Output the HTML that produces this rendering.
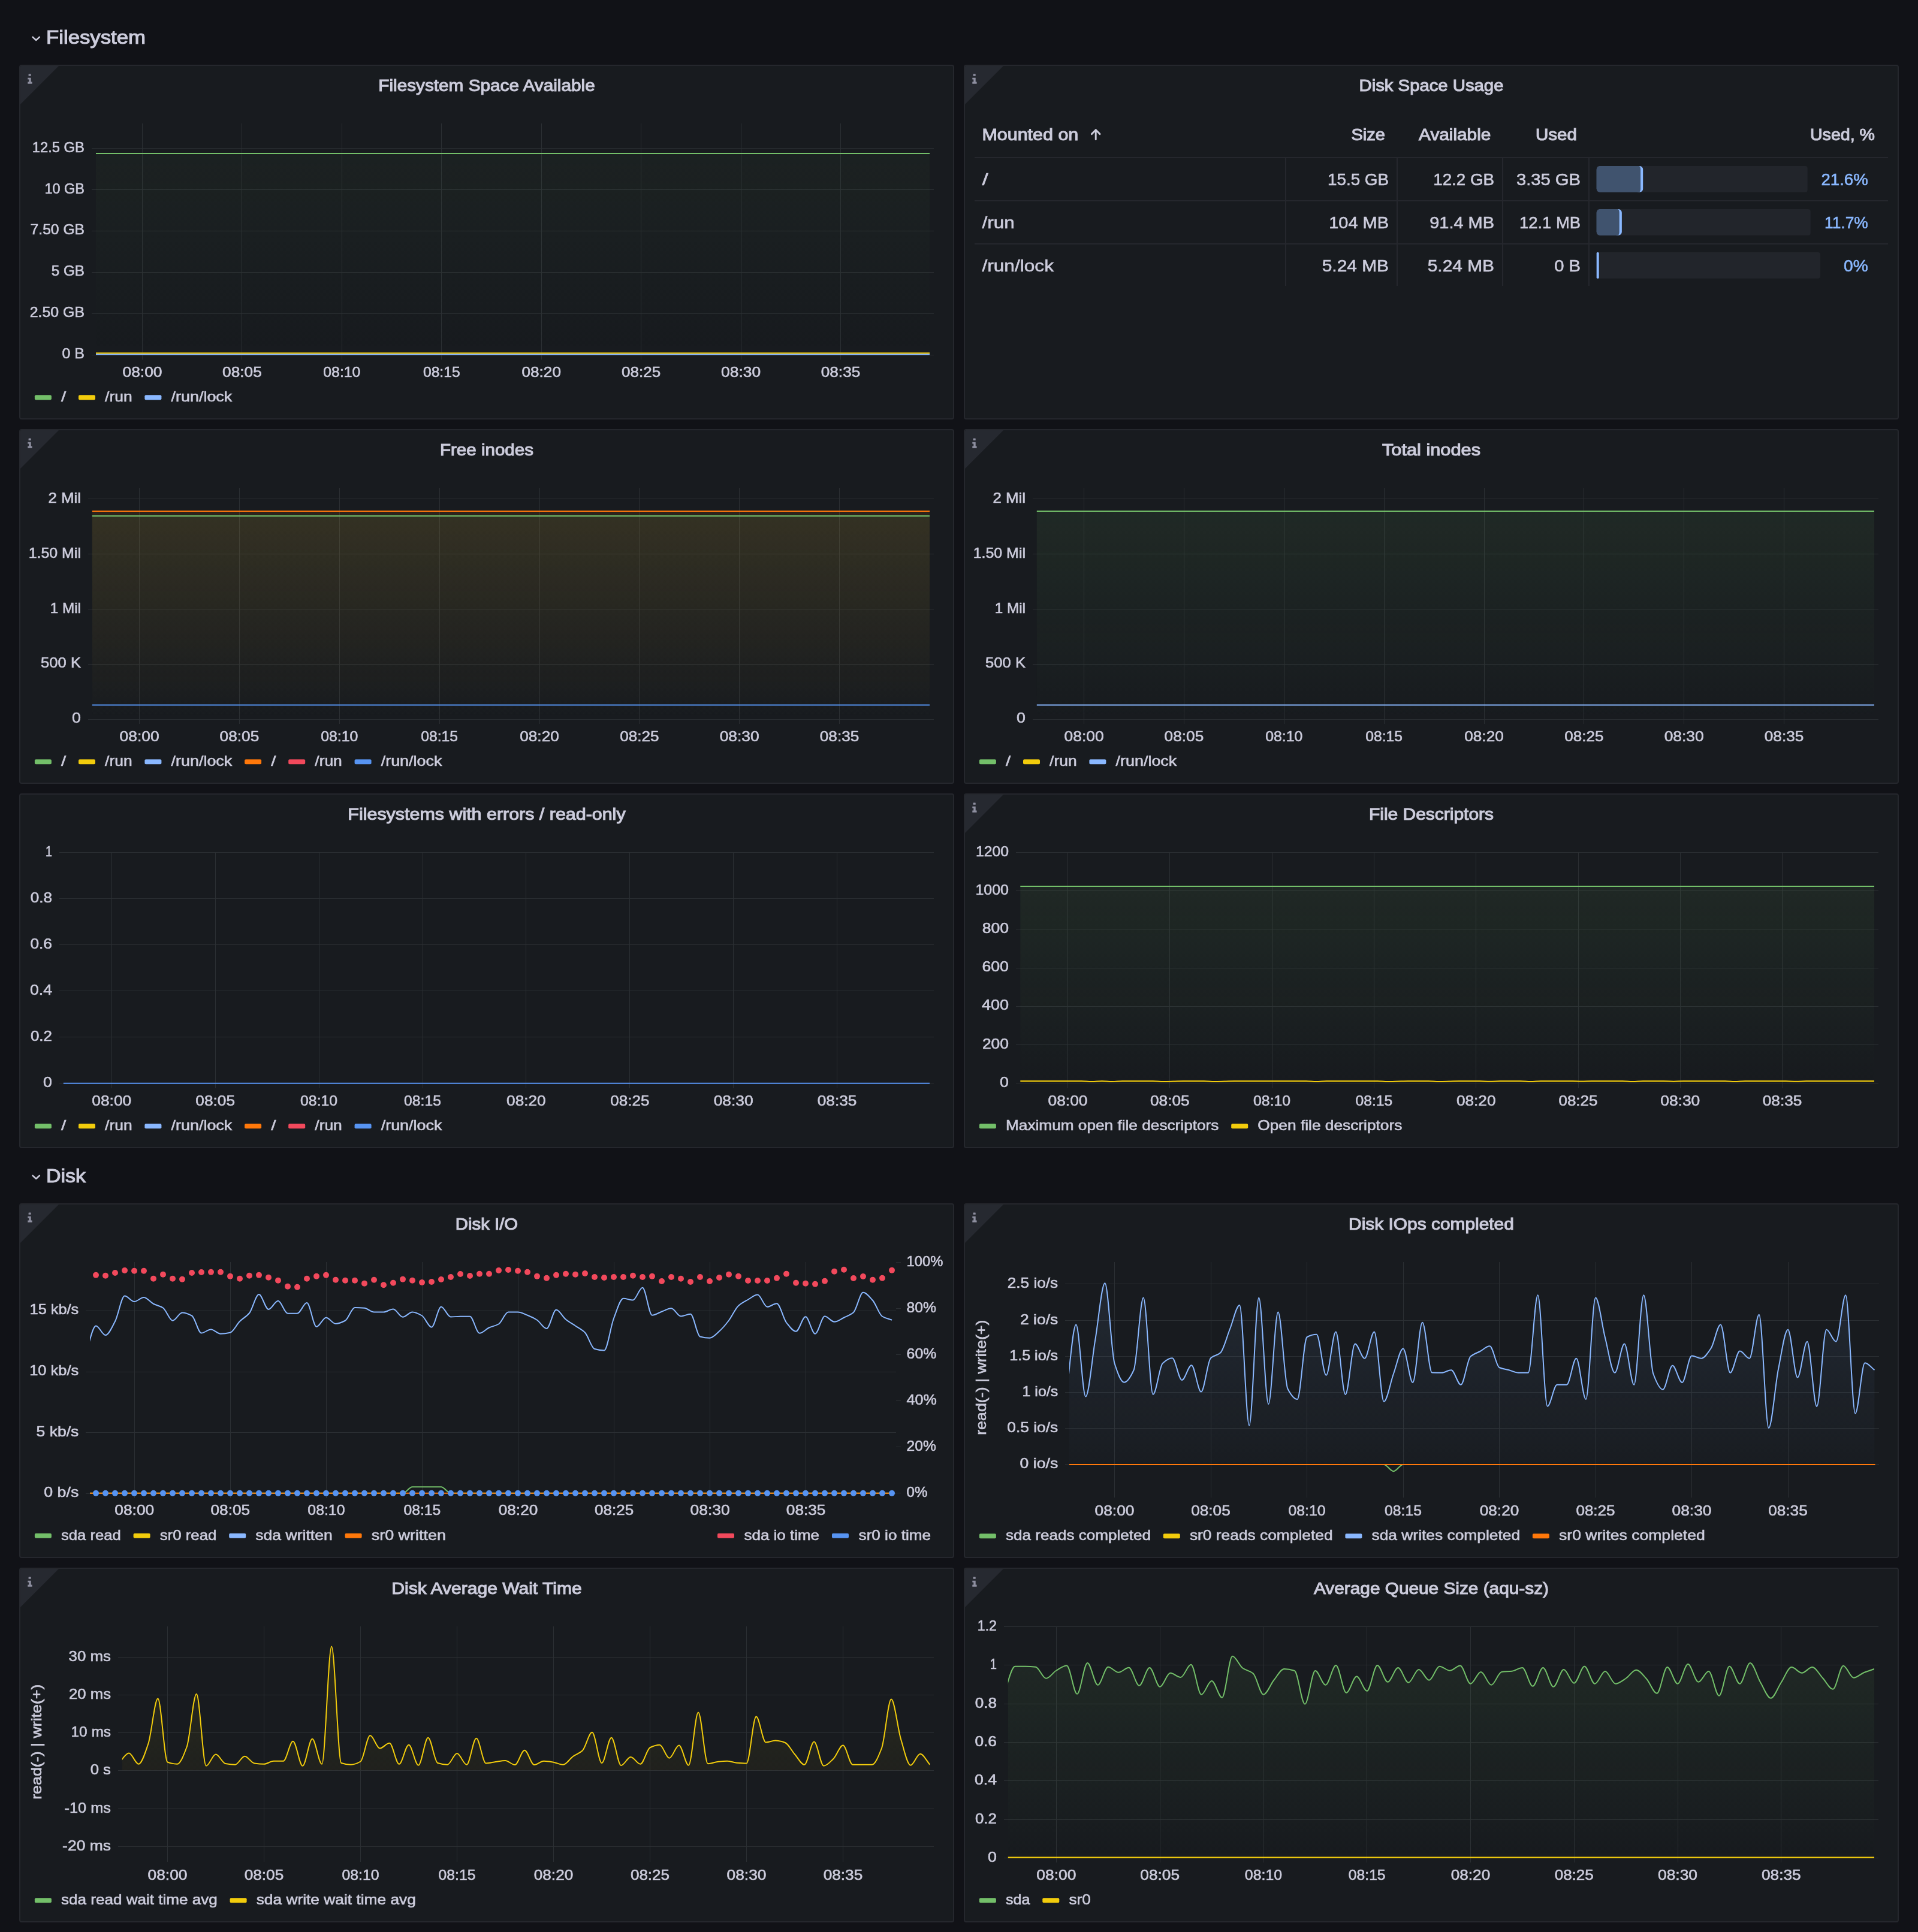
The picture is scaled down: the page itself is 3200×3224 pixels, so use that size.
<!DOCTYPE html><html lang="en"><head><meta charset="utf-8"><title>Node Exporter Full</title><style>
html,body{margin:0;padding:0;background:#111217;}
body{width:3200px;height:3224px;position:relative;overflow:hidden;font-family:"Liberation Sans",sans-serif;color:#ccccdc;}
.panel{position:absolute;box-sizing:border-box;background:#181b1f;border:2px solid #25272d;border-radius:4px;overflow:hidden;}
.panel svg{position:absolute;left:-2px;top:-2px;display:block;will-change:transform;}
.row{position:absolute;left:32px;height:60px;width:600px;}
.row svg{display:block;will-change:transform;}
svg text{font-family:"Liberation Sans",sans-serif;}
</style></head><body>
<div class="row" style="top:32px"><svg width="600" height="60" viewBox="0 0 600 60"><path d="M22.6,29.9l5.6,5.1l5.6,-5.1" fill="none" stroke="#ccccdc" stroke-width="2.6" stroke-linecap="round" stroke-linejoin="round"/><text x="45" y="41.4" font-size="32" fill="#ccccdc" textLength="166" lengthAdjust="spacingAndGlyphs" stroke="#ccccdc" stroke-width="1.1">Filesystem</text></svg></div>
<div class="row" style="top:1932px"><svg width="600" height="60" viewBox="0 0 600 60"><path d="M22.6,29.9l5.6,5.1l5.6,-5.1" fill="none" stroke="#ccccdc" stroke-width="2.6" stroke-linecap="round" stroke-linejoin="round"/><text x="45" y="41.4" font-size="32" fill="#ccccdc" textLength="66" lengthAdjust="spacingAndGlyphs" stroke="#ccccdc" stroke-width="1.1">Disk</text></svg></div>
<section class="panel" style="left:32px;top:108px;width:1560px;height:592px"><svg width="1560" height="592" viewBox="0 0 1560 592"><path d="M2,2H66L2,66Z" fill="#262930"/><g fill="#8e8fa0"><rect x="15.6" y="15.5" width="4.1" height="3.3" rx="0.4"/><path d="M14.3,21.7h5.4v6.9h1.9v3.1h-7.3v-3.1h2v-4.1h-2z"/></g><text x="599.29" y="43.8" font-size="28" fill="#ccccdc" textLength="361.42" lengthAdjust="spacingAndGlyphs" stroke="#ccccdc" stroke-width="1.1">Filesystem Space Available</text><g stroke="#2b2f33" stroke-width="1" shape-rendering="crispEdges"><line x1="205.5" y1="98.4" x2="205.5" y2="491.8"/><line x1="371.93" y1="98.4" x2="371.93" y2="491.8"/><line x1="538.36" y1="98.4" x2="538.36" y2="491.8"/><line x1="704.79" y1="98.4" x2="704.79" y2="491.8"/><line x1="871.22" y1="98.4" x2="871.22" y2="491.8"/><line x1="1037.65" y1="98.4" x2="1037.65" y2="491.8"/><line x1="1204.08" y1="98.4" x2="1204.08" y2="491.8"/><line x1="1370.51" y1="98.4" x2="1370.51" y2="491.8"/><line x1="121" y1="139.5" x2="1526" y2="139.5"/><line x1="121" y1="208.4" x2="1526" y2="208.4"/><line x1="121" y1="277.3" x2="1526" y2="277.3"/><line x1="121" y1="346.2" x2="1526" y2="346.2"/><line x1="121" y1="415.1" x2="1526" y2="415.1"/><line x1="121" y1="484" x2="1526" y2="484"/></g><text x="21.67" y="145.6" font-size="24" fill="#ccccdc" textLength="87.33" lengthAdjust="spacingAndGlyphs" stroke="#ccccdc" stroke-width="0.6">12.5 GB</text><text x="42.5" y="214.5" font-size="24" fill="#ccccdc" textLength="66.5" lengthAdjust="spacingAndGlyphs" stroke="#ccccdc" stroke-width="0.6">10 GB</text><text x="18.62" y="283.4" font-size="24" fill="#ccccdc" textLength="90.38" lengthAdjust="spacingAndGlyphs" stroke="#ccccdc" stroke-width="0.6">7.50 GB</text><text x="53.82" y="352.3" font-size="24" fill="#ccccdc" textLength="55.18" lengthAdjust="spacingAndGlyphs" stroke="#ccccdc" stroke-width="0.6">5 GB</text><text x="17.77" y="421.2" font-size="24" fill="#ccccdc" textLength="91.23" lengthAdjust="spacingAndGlyphs" stroke="#ccccdc" stroke-width="0.6">2.50 GB</text><text x="71.49" y="490.1" font-size="24" fill="#ccccdc" textLength="37.51" lengthAdjust="spacingAndGlyphs" stroke="#ccccdc" stroke-width="0.6">0 B</text><text x="172.49" y="521.2" font-size="24" fill="#ccccdc" textLength="66.02" lengthAdjust="spacingAndGlyphs" stroke="#ccccdc" stroke-width="0.6">08:00</text><text x="339.1" y="521.2" font-size="24" fill="#ccccdc" textLength="65.65" lengthAdjust="spacingAndGlyphs" stroke="#ccccdc" stroke-width="0.6">08:05</text><text x="507.3" y="521.2" font-size="24" fill="#ccccdc" textLength="62.12" lengthAdjust="spacingAndGlyphs" stroke="#ccccdc" stroke-width="0.6">08:10</text><text x="673.91" y="521.2" font-size="24" fill="#ccccdc" textLength="61.75" lengthAdjust="spacingAndGlyphs" stroke="#ccccdc" stroke-width="0.6">08:15</text><text x="838.46" y="521.2" font-size="24" fill="#ccccdc" textLength="65.53" lengthAdjust="spacingAndGlyphs" stroke="#ccccdc" stroke-width="0.6">08:20</text><text x="1005.07" y="521.2" font-size="24" fill="#ccccdc" textLength="65.16" lengthAdjust="spacingAndGlyphs" stroke="#ccccdc" stroke-width="0.6">08:25</text><text x="1171.07" y="521.2" font-size="24" fill="#ccccdc" textLength="66.02" lengthAdjust="spacingAndGlyphs" stroke="#ccccdc" stroke-width="0.6">08:30</text><text x="1337.68" y="521.2" font-size="24" fill="#ccccdc" textLength="65.65" lengthAdjust="spacingAndGlyphs" stroke="#ccccdc" stroke-width="0.6">08:35</text><defs><linearGradient id="lg1" gradientUnits="userSpaceOnUse" x1="0" y1="98.4" x2="0" y2="483.8"><stop offset="0" stop-color="#73bf69" stop-opacity="0.05"/><stop offset="1" stop-color="#73bf69" stop-opacity="0"/></linearGradient></defs><rect x="128" y="148" width="1391" height="336" fill="url(#lg1)"/><line x1="128" y1="148" x2="1519" y2="148" stroke="#73bf69" stroke-width="2"/><line x1="128" y1="483.2" x2="1519" y2="483.2" stroke="#8ab8ff" stroke-width="2"/><line x1="128" y1="481.2" x2="1519" y2="481.2" stroke="#f2cc0c" stroke-width="2"/><rect x="25.9" y="551.3" width="28" height="8" rx="2" fill="#73bf69"/><text x="70" y="562.3" font-size="24" fill="#ccccdc" textLength="8.2" lengthAdjust="spacingAndGlyphs" stroke="#ccccdc" stroke-width="0.6">/</text><rect x="99" y="551.3" width="28" height="8" rx="2" fill="#f2cc0c"/><text x="143.1" y="562.3" font-size="24" fill="#ccccdc" textLength="45.5" lengthAdjust="spacingAndGlyphs" stroke="#ccccdc" stroke-width="0.6">/run</text><rect x="209.4" y="551.3" width="28" height="8" rx="2" fill="#8ab8ff"/><text x="253.5" y="562.3" font-size="24" fill="#ccccdc" textLength="101.8" lengthAdjust="spacingAndGlyphs" stroke="#ccccdc" stroke-width="0.6">/run/lock</text></svg></section>
<section class="panel" style="left:1608px;top:108px;width:1560px;height:592px"><svg width="1560" height="592" viewBox="0 0 1560 592"><path d="M2,2H66L2,66Z" fill="#262930"/><g fill="#8e8fa0"><rect x="15.6" y="15.5" width="4.1" height="3.3" rx="0.4"/><path d="M14.3,21.7h5.4v6.9h1.9v3.1h-7.3v-3.1h2v-4.1h-2z"/></g><text x="659.53" y="43.8" font-size="28" fill="#ccccdc" textLength="240.95" lengthAdjust="spacingAndGlyphs" stroke="#ccccdc" stroke-width="1.1">Disk Space Usage</text><text x="30.4" y="125.8" font-size="28" fill="#ccccdc" textLength="160.91" lengthAdjust="spacingAndGlyphs" stroke="#ccccdc" stroke-width="1.1">Mounted on</text><path d="M220.2,124.8 v-16 m-6.8,6.8 l6.8,-6.8 l6.8,6.8" fill="none" stroke="#ccccdc" stroke-width="2.9" stroke-linecap="round" stroke-linejoin="round"/><text x="646.44" y="125.8" font-size="28" fill="#ccccdc" textLength="56.56" lengthAdjust="spacingAndGlyphs" stroke="#ccccdc" stroke-width="1.1">Size</text><text x="759.11" y="125.8" font-size="28" fill="#ccccdc" textLength="120.19" lengthAdjust="spacingAndGlyphs" stroke="#ccccdc" stroke-width="1.1">Available</text><text x="954" y="125.8" font-size="28" fill="#ccccdc" textLength="69" lengthAdjust="spacingAndGlyphs" stroke="#ccccdc" stroke-width="1.1">Used</text><text x="1411.97" y="125.8" font-size="28" fill="#ccccdc" textLength="108.03" lengthAdjust="spacingAndGlyphs" stroke="#ccccdc" stroke-width="1.1">Used, %</text><g stroke="#25272d" stroke-width="2" shape-rendering="crispEdges"><line x1="18" y1="154.7" x2="1542" y2="154.7"/><line x1="18" y1="226.9" x2="1542" y2="226.9"/><line x1="18" y1="298.6" x2="1542" y2="298.6"/><line x1="536.8" y1="155" x2="536.8" y2="369"/><line x1="722.8" y1="155" x2="722.8" y2="369"/><line x1="899" y1="155" x2="899" y2="369"/><line x1="1043" y1="155" x2="1043" y2="369"/></g><text x="30.4" y="201.2" font-size="28" fill="#ccccdc" textLength="10.23" lengthAdjust="spacingAndGlyphs" stroke="#ccccdc" stroke-width="0.6">/</text><text x="606.97" y="201.2" font-size="28" fill="#ccccdc" textLength="102.03" lengthAdjust="spacingAndGlyphs" stroke="#ccccdc" stroke-width="0.6">15.5 GB</text><text x="783.26" y="201.2" font-size="28" fill="#ccccdc" textLength="101.74" lengthAdjust="spacingAndGlyphs" stroke="#ccccdc" stroke-width="0.6">12.2 GB</text><text x="922" y="201.2" font-size="28" fill="#ccccdc" textLength="107" lengthAdjust="spacingAndGlyphs" stroke="#ccccdc" stroke-width="0.6">3.35 GB</text><text x="1430.55" y="201.2" font-size="28" fill="#8ab8ff" textLength="78.15" lengthAdjust="spacingAndGlyphs" stroke="#8ab8ff" stroke-width="0.6">21.6%</text><rect x="1055.7" y="169" width="352" height="43.7" rx="4" fill="#22252b"/><defs><clipPath id="bc2"><rect x="1055.7" y="169" width="77.6" height="43.7" rx="6"/></clipPath><clipPath id="bc3"><rect x="1124.3" y="169" width="9" height="43.7"/></clipPath></defs><rect x="1055.7" y="169" width="77.6" height="43.7" rx="6" fill="#40536e"/><rect x="1055.7" y="169" width="77.6" height="43.7" rx="6" fill="#8ab8ff" clip-path="url(#bc3)"/><rect x="1045.7" y="169" width="83.4" height="43.7" rx="2.5" ry="6" fill="#40536e" clip-path="url(#bc2)"/><text x="30.4" y="273.2" font-size="28" fill="#ccccdc" textLength="54.28" lengthAdjust="spacingAndGlyphs" stroke="#ccccdc" stroke-width="0.6">/run</text><text x="609.25" y="273.2" font-size="28" fill="#ccccdc" textLength="99.75" lengthAdjust="spacingAndGlyphs" stroke="#ccccdc" stroke-width="0.6">104 MB</text><text x="777.29" y="273.2" font-size="28" fill="#ccccdc" textLength="107.71" lengthAdjust="spacingAndGlyphs" stroke="#ccccdc" stroke-width="0.6">91.4 MB</text><text x="926.97" y="273.2" font-size="28" fill="#ccccdc" textLength="102.03" lengthAdjust="spacingAndGlyphs" stroke="#ccccdc" stroke-width="0.6">12.1 MB</text><text x="1436.09" y="273.2" font-size="28" fill="#8ab8ff" textLength="72.61" lengthAdjust="spacingAndGlyphs" stroke="#8ab8ff" stroke-width="0.6">11.7%</text><rect x="1055.7" y="241" width="357" height="43.7" rx="4" fill="#22252b"/><defs><clipPath id="bc4"><rect x="1055.7" y="241" width="42.2" height="43.7" rx="6"/></clipPath><clipPath id="bc5"><rect x="1088.9" y="241" width="9" height="43.7"/></clipPath></defs><rect x="1055.7" y="241" width="42.2" height="43.7" rx="6" fill="#40536e"/><rect x="1055.7" y="241" width="42.2" height="43.7" rx="6" fill="#8ab8ff" clip-path="url(#bc5)"/><rect x="1045.7" y="241" width="48" height="43.7" rx="2.5" ry="6" fill="#40536e" clip-path="url(#bc4)"/><text x="30.4" y="345.2" font-size="28" fill="#ccccdc" textLength="119.65" lengthAdjust="spacingAndGlyphs" stroke="#ccccdc" stroke-width="0.6">/run/lock</text><text x="597.74" y="345.2" font-size="28" fill="#ccccdc" textLength="111.26" lengthAdjust="spacingAndGlyphs" stroke="#ccccdc" stroke-width="0.6">5.24 MB</text><text x="773.74" y="345.2" font-size="28" fill="#ccccdc" textLength="111.26" lengthAdjust="spacingAndGlyphs" stroke="#ccccdc" stroke-width="0.6">5.24 MB</text><text x="985.23" y="345.2" font-size="28" fill="#ccccdc" textLength="43.77" lengthAdjust="spacingAndGlyphs" stroke="#ccccdc" stroke-width="0.6">0 B</text><text x="1468.06" y="345.2" font-size="28" fill="#8ab8ff" textLength="40.64" lengthAdjust="spacingAndGlyphs" stroke="#8ab8ff" stroke-width="0.6">0%</text><rect x="1055.7" y="313" width="373.3" height="43.7" rx="4" fill="#22252b"/><rect x="1055.7" y="313" width="4" height="43.7" rx="1.5" fill="#8ab8ff"/></svg></section>
<section class="panel" style="left:32px;top:716px;width:1560px;height:592px"><svg width="1560" height="592" viewBox="0 0 1560 592"><path d="M2,2H66L2,66Z" fill="#262930"/><g fill="#8e8fa0"><rect x="15.6" y="15.5" width="4.1" height="3.3" rx="0.4"/><path d="M14.3,21.7h5.4v6.9h1.9v3.1h-7.3v-3.1h2v-4.1h-2z"/></g><text x="701.95" y="43.8" font-size="28" fill="#ccccdc" textLength="156.11" lengthAdjust="spacingAndGlyphs" stroke="#ccccdc" stroke-width="1.1">Free inodes</text><g stroke="#2b2f33" stroke-width="1" shape-rendering="crispEdges"><line x1="200.6" y1="98.4" x2="200.6" y2="491.8"/><line x1="367.45" y1="98.4" x2="367.45" y2="491.8"/><line x1="534.3" y1="98.4" x2="534.3" y2="491.8"/><line x1="701.15" y1="98.4" x2="701.15" y2="491.8"/><line x1="868" y1="98.4" x2="868" y2="491.8"/><line x1="1034.85" y1="98.4" x2="1034.85" y2="491.8"/><line x1="1201.7" y1="98.4" x2="1201.7" y2="491.8"/><line x1="1368.55" y1="98.4" x2="1368.55" y2="491.8"/><line x1="114.7" y1="116.5" x2="1526" y2="116.5"/><line x1="114.7" y1="208.45" x2="1526" y2="208.45"/><line x1="114.7" y1="300.4" x2="1526" y2="300.4"/><line x1="114.7" y1="392.35" x2="1526" y2="392.35"/><line x1="114.7" y1="484.3" x2="1526" y2="484.3"/></g><text x="48.43" y="122.6" font-size="24" fill="#ccccdc" textLength="54.57" lengthAdjust="spacingAndGlyphs" stroke="#ccccdc" stroke-width="0.6">2 Mil</text><text x="15.67" y="214.55" font-size="24" fill="#ccccdc" textLength="87.33" lengthAdjust="spacingAndGlyphs" stroke="#ccccdc" stroke-width="0.6">1.50 Mil</text><text x="51.84" y="306.5" font-size="24" fill="#ccccdc" textLength="51.16" lengthAdjust="spacingAndGlyphs" stroke="#ccccdc" stroke-width="0.6">1 Mil</text><text x="36.13" y="398.45" font-size="24" fill="#ccccdc" textLength="66.87" lengthAdjust="spacingAndGlyphs" stroke="#ccccdc" stroke-width="0.6">500 K</text><text x="88.14" y="490.4" font-size="24" fill="#ccccdc" textLength="14.86" lengthAdjust="spacingAndGlyphs" stroke="#ccccdc" stroke-width="0.6">0</text><text x="167.59" y="521.2" font-size="24" fill="#ccccdc" textLength="66.02" lengthAdjust="spacingAndGlyphs" stroke="#ccccdc" stroke-width="0.6">08:00</text><text x="334.62" y="521.2" font-size="24" fill="#ccccdc" textLength="65.65" lengthAdjust="spacingAndGlyphs" stroke="#ccccdc" stroke-width="0.6">08:05</text><text x="503.24" y="521.2" font-size="24" fill="#ccccdc" textLength="62.12" lengthAdjust="spacingAndGlyphs" stroke="#ccccdc" stroke-width="0.6">08:10</text><text x="670.27" y="521.2" font-size="24" fill="#ccccdc" textLength="61.75" lengthAdjust="spacingAndGlyphs" stroke="#ccccdc" stroke-width="0.6">08:15</text><text x="835.24" y="521.2" font-size="24" fill="#ccccdc" textLength="65.53" lengthAdjust="spacingAndGlyphs" stroke="#ccccdc" stroke-width="0.6">08:20</text><text x="1002.27" y="521.2" font-size="24" fill="#ccccdc" textLength="65.16" lengthAdjust="spacingAndGlyphs" stroke="#ccccdc" stroke-width="0.6">08:25</text><text x="1168.69" y="521.2" font-size="24" fill="#ccccdc" textLength="66.02" lengthAdjust="spacingAndGlyphs" stroke="#ccccdc" stroke-width="0.6">08:30</text><text x="1335.72" y="521.2" font-size="24" fill="#ccccdc" textLength="65.65" lengthAdjust="spacingAndGlyphs" stroke="#ccccdc" stroke-width="0.6">08:35</text><defs><linearGradient id="lg6" gradientUnits="userSpaceOnUse" x1="0" y1="98.4" x2="0" y2="483.8"><stop offset="0" stop-color="#ff780a" stop-opacity="0.11"/><stop offset="1" stop-color="#ff780a" stop-opacity="0"/></linearGradient></defs><rect x="121.8" y="137" width="1397.2" height="347.3" fill="url(#lg6)"/><defs><linearGradient id="lg7" gradientUnits="userSpaceOnUse" x1="0" y1="98.4" x2="0" y2="483.8"><stop offset="0" stop-color="#73bf69" stop-opacity="0.1"/><stop offset="1" stop-color="#73bf69" stop-opacity="0"/></linearGradient></defs><rect x="121.8" y="145" width="1397.2" height="339.3" fill="url(#lg7)"/><defs><linearGradient id="lg8" gradientUnits="userSpaceOnUse" x1="0" y1="98.4" x2="0" y2="483.8"><stop offset="0" stop-color="#5794f2" stop-opacity="0.1"/><stop offset="1" stop-color="#5794f2" stop-opacity="0"/></linearGradient></defs><rect x="121.8" y="460.5" width="1397.2" height="23.8" fill="url(#lg8)"/><line x1="121.8" y1="145" x2="1519" y2="145" stroke="#73bf69" stroke-width="2"/><line x1="121.8" y1="137" x2="1519" y2="137" stroke="#ff780a" stroke-width="2"/><line x1="121.8" y1="460.5" x2="1519" y2="460.5" stroke="#5794f2" stroke-width="2"/><rect x="25.9" y="551.3" width="28" height="8" rx="2" fill="#73bf69"/><text x="70" y="562.3" font-size="24" fill="#ccccdc" textLength="8.2" lengthAdjust="spacingAndGlyphs" stroke="#ccccdc" stroke-width="0.6">/</text><rect x="99" y="551.3" width="28" height="8" rx="2" fill="#f2cc0c"/><text x="143.1" y="562.3" font-size="24" fill="#ccccdc" textLength="45.5" lengthAdjust="spacingAndGlyphs" stroke="#ccccdc" stroke-width="0.6">/run</text><rect x="209.4" y="551.3" width="28" height="8" rx="2" fill="#8ab8ff"/><text x="253.5" y="562.3" font-size="24" fill="#ccccdc" textLength="101.8" lengthAdjust="spacingAndGlyphs" stroke="#ccccdc" stroke-width="0.6">/run/lock</text><rect x="376.1" y="551.3" width="28" height="8" rx="2" fill="#ff780a"/><text x="420.2" y="562.3" font-size="24" fill="#ccccdc" textLength="8.2" lengthAdjust="spacingAndGlyphs" stroke="#ccccdc" stroke-width="0.6">/</text><rect x="449.2" y="551.3" width="28" height="8" rx="2" fill="#f2495c"/><text x="493.3" y="562.3" font-size="24" fill="#ccccdc" textLength="45.5" lengthAdjust="spacingAndGlyphs" stroke="#ccccdc" stroke-width="0.6">/run</text><rect x="559.6" y="551.3" width="28" height="8" rx="2" fill="#5794f2"/><text x="603.7" y="562.3" font-size="24" fill="#ccccdc" textLength="101.8" lengthAdjust="spacingAndGlyphs" stroke="#ccccdc" stroke-width="0.6">/run/lock</text></svg></section>
<section class="panel" style="left:1608px;top:716px;width:1560px;height:592px"><svg width="1560" height="592" viewBox="0 0 1560 592"><path d="M2,2H66L2,66Z" fill="#262930"/><g fill="#8e8fa0"><rect x="15.6" y="15.5" width="4.1" height="3.3" rx="0.4"/><path d="M14.3,21.7h5.4v6.9h1.9v3.1h-7.3v-3.1h2v-4.1h-2z"/></g><text x="697.99" y="43.8" font-size="28" fill="#ccccdc" textLength="164.02" lengthAdjust="spacingAndGlyphs" stroke="#ccccdc" stroke-width="1.1">Total inodes</text><g stroke="#2b2f33" stroke-width="1" shape-rendering="crispEdges"><line x1="200.6" y1="98.4" x2="200.6" y2="491.8"/><line x1="367.45" y1="98.4" x2="367.45" y2="491.8"/><line x1="534.3" y1="98.4" x2="534.3" y2="491.8"/><line x1="701.15" y1="98.4" x2="701.15" y2="491.8"/><line x1="868" y1="98.4" x2="868" y2="491.8"/><line x1="1034.85" y1="98.4" x2="1034.85" y2="491.8"/><line x1="1201.7" y1="98.4" x2="1201.7" y2="491.8"/><line x1="1368.55" y1="98.4" x2="1368.55" y2="491.8"/><line x1="114.7" y1="116.5" x2="1526" y2="116.5"/><line x1="114.7" y1="208.45" x2="1526" y2="208.45"/><line x1="114.7" y1="300.4" x2="1526" y2="300.4"/><line x1="114.7" y1="392.35" x2="1526" y2="392.35"/><line x1="114.7" y1="484.3" x2="1526" y2="484.3"/></g><text x="48.43" y="122.6" font-size="24" fill="#ccccdc" textLength="54.57" lengthAdjust="spacingAndGlyphs" stroke="#ccccdc" stroke-width="0.6">2 Mil</text><text x="15.67" y="214.55" font-size="24" fill="#ccccdc" textLength="87.33" lengthAdjust="spacingAndGlyphs" stroke="#ccccdc" stroke-width="0.6">1.50 Mil</text><text x="51.84" y="306.5" font-size="24" fill="#ccccdc" textLength="51.16" lengthAdjust="spacingAndGlyphs" stroke="#ccccdc" stroke-width="0.6">1 Mil</text><text x="36.13" y="398.45" font-size="24" fill="#ccccdc" textLength="66.87" lengthAdjust="spacingAndGlyphs" stroke="#ccccdc" stroke-width="0.6">500 K</text><text x="88.14" y="490.4" font-size="24" fill="#ccccdc" textLength="14.86" lengthAdjust="spacingAndGlyphs" stroke="#ccccdc" stroke-width="0.6">0</text><text x="167.59" y="521.2" font-size="24" fill="#ccccdc" textLength="66.02" lengthAdjust="spacingAndGlyphs" stroke="#ccccdc" stroke-width="0.6">08:00</text><text x="334.62" y="521.2" font-size="24" fill="#ccccdc" textLength="65.65" lengthAdjust="spacingAndGlyphs" stroke="#ccccdc" stroke-width="0.6">08:05</text><text x="503.24" y="521.2" font-size="24" fill="#ccccdc" textLength="62.12" lengthAdjust="spacingAndGlyphs" stroke="#ccccdc" stroke-width="0.6">08:10</text><text x="670.27" y="521.2" font-size="24" fill="#ccccdc" textLength="61.75" lengthAdjust="spacingAndGlyphs" stroke="#ccccdc" stroke-width="0.6">08:15</text><text x="835.24" y="521.2" font-size="24" fill="#ccccdc" textLength="65.53" lengthAdjust="spacingAndGlyphs" stroke="#ccccdc" stroke-width="0.6">08:20</text><text x="1002.27" y="521.2" font-size="24" fill="#ccccdc" textLength="65.16" lengthAdjust="spacingAndGlyphs" stroke="#ccccdc" stroke-width="0.6">08:25</text><text x="1168.69" y="521.2" font-size="24" fill="#ccccdc" textLength="66.02" lengthAdjust="spacingAndGlyphs" stroke="#ccccdc" stroke-width="0.6">08:30</text><text x="1335.72" y="521.2" font-size="24" fill="#ccccdc" textLength="65.65" lengthAdjust="spacingAndGlyphs" stroke="#ccccdc" stroke-width="0.6">08:35</text><defs><linearGradient id="lg9" gradientUnits="userSpaceOnUse" x1="0" y1="98.4" x2="0" y2="483.8"><stop offset="0" stop-color="#73bf69" stop-opacity="0.1"/><stop offset="1" stop-color="#73bf69" stop-opacity="0"/></linearGradient></defs><rect x="121.8" y="137" width="1397.2" height="347.3" fill="url(#lg9)"/><defs><linearGradient id="lg10" gradientUnits="userSpaceOnUse" x1="0" y1="98.4" x2="0" y2="483.8"><stop offset="0" stop-color="#8ab8ff" stop-opacity="0.1"/><stop offset="1" stop-color="#8ab8ff" stop-opacity="0"/></linearGradient></defs><rect x="121.8" y="460.5" width="1397.2" height="23.8" fill="url(#lg10)"/><line x1="121.8" y1="137" x2="1519" y2="137" stroke="#73bf69" stroke-width="2"/><line x1="121.8" y1="460.5" x2="1519" y2="460.5" stroke="#8ab8ff" stroke-width="2"/><rect x="25.9" y="551.3" width="28" height="8" rx="2" fill="#73bf69"/><text x="70" y="562.3" font-size="24" fill="#ccccdc" textLength="8.2" lengthAdjust="spacingAndGlyphs" stroke="#ccccdc" stroke-width="0.6">/</text><rect x="99" y="551.3" width="28" height="8" rx="2" fill="#f2cc0c"/><text x="143.1" y="562.3" font-size="24" fill="#ccccdc" textLength="45.5" lengthAdjust="spacingAndGlyphs" stroke="#ccccdc" stroke-width="0.6">/run</text><rect x="209.4" y="551.3" width="28" height="8" rx="2" fill="#8ab8ff"/><text x="253.5" y="562.3" font-size="24" fill="#ccccdc" textLength="101.8" lengthAdjust="spacingAndGlyphs" stroke="#ccccdc" stroke-width="0.6">/run/lock</text></svg></section>
<section class="panel" style="left:32px;top:1324px;width:1560px;height:592px"><svg width="1560" height="592" viewBox="0 0 1560 592"><text x="548.39" y="43.8" font-size="28" fill="#ccccdc" textLength="463.23" lengthAdjust="spacingAndGlyphs" stroke="#ccccdc" stroke-width="1.1">Filesystems with errors / read-only</text><g stroke="#2b2f33" stroke-width="1" shape-rendering="crispEdges"><line x1="154.3" y1="98.4" x2="154.3" y2="491.8"/><line x1="327.2" y1="98.4" x2="327.2" y2="491.8"/><line x1="500.1" y1="98.4" x2="500.1" y2="491.8"/><line x1="673" y1="98.4" x2="673" y2="491.8"/><line x1="845.9" y1="98.4" x2="845.9" y2="491.8"/><line x1="1018.8" y1="98.4" x2="1018.8" y2="491.8"/><line x1="1191.7" y1="98.4" x2="1191.7" y2="491.8"/><line x1="1364.6" y1="98.4" x2="1364.6" y2="491.8"/><line x1="66.7" y1="98.4" x2="1526" y2="98.4"/><line x1="66.7" y1="175.48" x2="1526" y2="175.48"/><line x1="66.7" y1="252.56" x2="1526" y2="252.56"/><line x1="66.7" y1="329.64" x2="1526" y2="329.64"/><line x1="66.7" y1="406.72" x2="1526" y2="406.72"/><line x1="66.7" y1="483.8" x2="1526" y2="483.8"/></g><text x="44.04" y="104.5" font-size="24" fill="#ccccdc" textLength="10.96" lengthAdjust="spacingAndGlyphs" stroke="#ccccdc" stroke-width="0.6">1</text><text x="18.7" y="181.58" font-size="24" fill="#ccccdc" textLength="36.3" lengthAdjust="spacingAndGlyphs" stroke="#ccccdc" stroke-width="0.6">0.8</text><text x="18.46" y="258.66" font-size="24" fill="#ccccdc" textLength="36.54" lengthAdjust="spacingAndGlyphs" stroke="#ccccdc" stroke-width="0.6">0.6</text><text x="17.97" y="335.74" font-size="24" fill="#ccccdc" textLength="37.03" lengthAdjust="spacingAndGlyphs" stroke="#ccccdc" stroke-width="0.6">0.4</text><text x="18.95" y="412.82" font-size="24" fill="#ccccdc" textLength="36.05" lengthAdjust="spacingAndGlyphs" stroke="#ccccdc" stroke-width="0.6">0.2</text><text x="40.14" y="489.9" font-size="24" fill="#ccccdc" textLength="14.86" lengthAdjust="spacingAndGlyphs" stroke="#ccccdc" stroke-width="0.6">0</text><text x="121.29" y="521.2" font-size="24" fill="#ccccdc" textLength="66.02" lengthAdjust="spacingAndGlyphs" stroke="#ccccdc" stroke-width="0.6">08:00</text><text x="294.37" y="521.2" font-size="24" fill="#ccccdc" textLength="65.65" lengthAdjust="spacingAndGlyphs" stroke="#ccccdc" stroke-width="0.6">08:05</text><text x="469.04" y="521.2" font-size="24" fill="#ccccdc" textLength="62.12" lengthAdjust="spacingAndGlyphs" stroke="#ccccdc" stroke-width="0.6">08:10</text><text x="642.12" y="521.2" font-size="24" fill="#ccccdc" textLength="61.75" lengthAdjust="spacingAndGlyphs" stroke="#ccccdc" stroke-width="0.6">08:15</text><text x="813.14" y="521.2" font-size="24" fill="#ccccdc" textLength="65.53" lengthAdjust="spacingAndGlyphs" stroke="#ccccdc" stroke-width="0.6">08:20</text><text x="986.22" y="521.2" font-size="24" fill="#ccccdc" textLength="65.16" lengthAdjust="spacingAndGlyphs" stroke="#ccccdc" stroke-width="0.6">08:25</text><text x="1158.69" y="521.2" font-size="24" fill="#ccccdc" textLength="66.02" lengthAdjust="spacingAndGlyphs" stroke="#ccccdc" stroke-width="0.6">08:30</text><text x="1331.77" y="521.2" font-size="24" fill="#ccccdc" textLength="65.65" lengthAdjust="spacingAndGlyphs" stroke="#ccccdc" stroke-width="0.6">08:35</text><line x1="73.8" y1="483.8" x2="1519" y2="483.8" stroke="#5794f2" stroke-width="2"/><rect x="25.9" y="551.3" width="28" height="8" rx="2" fill="#73bf69"/><text x="70" y="562.3" font-size="24" fill="#ccccdc" textLength="8.2" lengthAdjust="spacingAndGlyphs" stroke="#ccccdc" stroke-width="0.6">/</text><rect x="99" y="551.3" width="28" height="8" rx="2" fill="#f2cc0c"/><text x="143.1" y="562.3" font-size="24" fill="#ccccdc" textLength="45.5" lengthAdjust="spacingAndGlyphs" stroke="#ccccdc" stroke-width="0.6">/run</text><rect x="209.4" y="551.3" width="28" height="8" rx="2" fill="#8ab8ff"/><text x="253.5" y="562.3" font-size="24" fill="#ccccdc" textLength="101.8" lengthAdjust="spacingAndGlyphs" stroke="#ccccdc" stroke-width="0.6">/run/lock</text><rect x="376.1" y="551.3" width="28" height="8" rx="2" fill="#ff780a"/><text x="420.2" y="562.3" font-size="24" fill="#ccccdc" textLength="8.2" lengthAdjust="spacingAndGlyphs" stroke="#ccccdc" stroke-width="0.6">/</text><rect x="449.2" y="551.3" width="28" height="8" rx="2" fill="#f2495c"/><text x="493.3" y="562.3" font-size="24" fill="#ccccdc" textLength="45.5" lengthAdjust="spacingAndGlyphs" stroke="#ccccdc" stroke-width="0.6">/run</text><rect x="559.6" y="551.3" width="28" height="8" rx="2" fill="#5794f2"/><text x="603.7" y="562.3" font-size="24" fill="#ccccdc" textLength="101.8" lengthAdjust="spacingAndGlyphs" stroke="#ccccdc" stroke-width="0.6">/run/lock</text></svg></section>
<section class="panel" style="left:1608px;top:1324px;width:1560px;height:592px"><svg width="1560" height="592" viewBox="0 0 1560 592"><path d="M2,2H66L2,66Z" fill="#262930"/><g fill="#8e8fa0"><rect x="15.6" y="15.5" width="4.1" height="3.3" rx="0.4"/><path d="M14.3,21.7h5.4v6.9h1.9v3.1h-7.3v-3.1h2v-4.1h-2z"/></g><text x="675.93" y="43.8" font-size="28" fill="#ccccdc" textLength="208.14" lengthAdjust="spacingAndGlyphs" stroke="#ccccdc" stroke-width="1.1">File Descriptors</text><g stroke="#2b2f33" stroke-width="1" shape-rendering="crispEdges"><line x1="173.5" y1="98.4" x2="173.5" y2="491.8"/><line x1="343.8" y1="98.4" x2="343.8" y2="491.8"/><line x1="514.1" y1="98.4" x2="514.1" y2="491.8"/><line x1="684.4" y1="98.4" x2="684.4" y2="491.8"/><line x1="854.7" y1="98.4" x2="854.7" y2="491.8"/><line x1="1025" y1="98.4" x2="1025" y2="491.8"/><line x1="1195.3" y1="98.4" x2="1195.3" y2="491.8"/><line x1="1365.6" y1="98.4" x2="1365.6" y2="491.8"/><line x1="86.8" y1="98.4" x2="1526" y2="98.4"/><line x1="86.8" y1="162.64" x2="1526" y2="162.64"/><line x1="86.8" y1="226.88" x2="1526" y2="226.88"/><line x1="86.8" y1="291.12" x2="1526" y2="291.12"/><line x1="86.8" y1="355.36" x2="1526" y2="355.36"/><line x1="86.8" y1="419.6" x2="1526" y2="419.6"/><line x1="86.8" y1="483.84" x2="1526" y2="483.84"/></g><text x="19.95" y="104.5" font-size="24" fill="#ccccdc" textLength="55.05" lengthAdjust="spacingAndGlyphs" stroke="#ccccdc" stroke-width="0.6">1200</text><text x="19.46" y="168.74" font-size="24" fill="#ccccdc" textLength="55.54" lengthAdjust="spacingAndGlyphs" stroke="#ccccdc" stroke-width="0.6">1000</text><text x="30.66" y="232.98" font-size="24" fill="#ccccdc" textLength="44.34" lengthAdjust="spacingAndGlyphs" stroke="#ccccdc" stroke-width="0.6">800</text><text x="30.42" y="297.22" font-size="24" fill="#ccccdc" textLength="44.58" lengthAdjust="spacingAndGlyphs" stroke="#ccccdc" stroke-width="0.6">600</text><text x="29.93" y="361.46" font-size="24" fill="#ccccdc" textLength="45.07" lengthAdjust="spacingAndGlyphs" stroke="#ccccdc" stroke-width="0.6">400</text><text x="30.91" y="425.7" font-size="24" fill="#ccccdc" textLength="44.09" lengthAdjust="spacingAndGlyphs" stroke="#ccccdc" stroke-width="0.6">200</text><text x="60.14" y="489.94" font-size="24" fill="#ccccdc" textLength="14.86" lengthAdjust="spacingAndGlyphs" stroke="#ccccdc" stroke-width="0.6">0</text><text x="140.49" y="521.2" font-size="24" fill="#ccccdc" textLength="66.02" lengthAdjust="spacingAndGlyphs" stroke="#ccccdc" stroke-width="0.6">08:00</text><text x="310.97" y="521.2" font-size="24" fill="#ccccdc" textLength="65.65" lengthAdjust="spacingAndGlyphs" stroke="#ccccdc" stroke-width="0.6">08:05</text><text x="483.04" y="521.2" font-size="24" fill="#ccccdc" textLength="62.12" lengthAdjust="spacingAndGlyphs" stroke="#ccccdc" stroke-width="0.6">08:10</text><text x="653.52" y="521.2" font-size="24" fill="#ccccdc" textLength="61.75" lengthAdjust="spacingAndGlyphs" stroke="#ccccdc" stroke-width="0.6">08:15</text><text x="821.94" y="521.2" font-size="24" fill="#ccccdc" textLength="65.53" lengthAdjust="spacingAndGlyphs" stroke="#ccccdc" stroke-width="0.6">08:20</text><text x="992.42" y="521.2" font-size="24" fill="#ccccdc" textLength="65.16" lengthAdjust="spacingAndGlyphs" stroke="#ccccdc" stroke-width="0.6">08:25</text><text x="1162.29" y="521.2" font-size="24" fill="#ccccdc" textLength="66.02" lengthAdjust="spacingAndGlyphs" stroke="#ccccdc" stroke-width="0.6">08:30</text><text x="1332.77" y="521.2" font-size="24" fill="#ccccdc" textLength="65.65" lengthAdjust="spacingAndGlyphs" stroke="#ccccdc" stroke-width="0.6">08:35</text><defs><linearGradient id="lg11" gradientUnits="userSpaceOnUse" x1="0" y1="98.4" x2="0" y2="483.8"><stop offset="0" stop-color="#73bf69" stop-opacity="0.1"/><stop offset="1" stop-color="#73bf69" stop-opacity="0"/></linearGradient></defs><rect x="94.3" y="155" width="1424.7" height="328.8" fill="url(#lg11)"/><line x1="94.3" y1="155" x2="1519" y2="155" stroke="#73bf69" stroke-width="2"/><path d="M94.3,480C99.98,480 105.65,480 111.33,480C117.01,480 122.68,480 128.36,480C134.04,480 139.71,480 145.39,480C151.07,480 156.74,480 162.42,480C168.1,480 173.77,480 179.45,480C185.13,480 190.8,480 196.48,480C202.16,480 207.83,481 213.51,481C219.19,481 224.86,480 230.54,480C236.22,480 241.89,481 247.57,481C253.25,481 258.92,480 264.6,480C270.28,480 275.95,480 281.63,480C287.31,480 292.98,480 298.66,480C304.34,480 310.01,480 315.69,480C321.37,480 327.04,481 332.72,481C338.4,481 344.07,480.76 349.75,480.6C355.43,480.44 361.1,480 366.78,480C372.46,480 378.13,480 383.81,480C389.49,480 395.16,480 400.84,480C406.52,480 412.19,481 417.87,481C423.55,481 429.22,480.76 434.9,480.6C440.58,480.44 446.25,480 451.93,480C457.61,480 463.28,480 468.96,480C474.64,480 480.31,480 485.99,480C491.67,480 497.34,480 503.02,480C508.7,480 514.37,480 520.05,480C525.73,480 531.4,480 537.08,480C542.76,480 548.43,480 554.11,480C559.79,480 565.46,480 571.14,480C576.82,480 582.49,481 588.17,481C593.85,481 599.52,480 605.2,480C610.88,480 616.55,480 622.23,480C627.91,480 633.58,480 639.26,480C644.94,480 650.61,480 656.29,480C661.97,480 667.64,480 673.32,480C679,480 684.67,480 690.35,480C696.03,480 701.7,481 707.38,481C713.06,481 718.73,480.67 724.41,480.5C730.09,480.33 735.76,480 741.44,480C747.12,480 752.79,480 758.47,480C764.15,480 769.82,480 775.5,480C781.18,480 786.85,481 792.53,481C798.21,481 803.88,480.76 809.56,480.6C815.24,480.44 820.91,480 826.59,480C832.27,480 837.94,480 843.62,480C849.3,480 854.97,480 860.65,480C866.33,480 872,480.8 877.68,480.8C883.36,480.8 889.03,480 894.71,480C900.39,480 906.06,480 911.74,480C917.42,480 923.09,480 928.77,480C934.45,480 940.12,481 945.8,481C951.48,481 957.15,480 962.83,480C968.51,480 974.18,480 979.86,480C985.54,480 991.21,480 996.89,480C1002.57,480 1008.24,480 1013.92,480C1019.6,480 1025.27,480.6 1030.95,480.6C1036.63,480.6 1042.3,480 1047.98,480C1053.66,480 1059.33,480 1065.01,480C1070.69,480 1076.36,480 1082.04,480C1087.72,480 1093.39,480 1099.07,480C1104.75,480 1110.42,481 1116.1,481C1121.78,481 1127.45,480 1133.13,480C1138.81,480 1144.48,480 1150.16,480C1155.84,480 1161.51,480 1167.19,480C1172.87,480 1178.54,480.7 1184.22,480.7C1189.9,480.7 1195.57,480 1201.25,480C1206.93,480 1212.6,480 1218.28,480C1223.96,480 1229.63,480 1235.31,480C1240.99,480 1246.66,480 1252.34,480C1258.02,480 1263.69,480 1269.37,480C1275.05,480 1280.72,481 1286.4,481C1292.08,481 1297.75,480 1303.43,480C1309.11,480 1314.78,480 1320.46,480C1326.14,480 1331.81,480 1337.49,480C1343.17,480 1348.84,480 1354.52,480C1360.2,480 1365.87,480 1371.55,480C1377.23,480 1382.9,480.8 1388.58,480.8C1394.26,480.8 1399.93,480 1405.61,480C1411.29,480 1416.96,480 1422.64,480C1428.32,480 1433.99,480 1439.67,480C1445.35,480 1451.02,480 1456.7,480C1462.38,480 1468.05,480 1473.73,480C1479.41,480 1485.08,480 1490.76,480C1496.44,480 1502.11,480 1507.79,480C1511.53,480 1515.26,480 1519,480" fill="none" stroke="#f2cc0c" stroke-width="2"/><rect x="25.9" y="551.3" width="28" height="8" rx="2" fill="#73bf69"/><text x="70" y="562.3" font-size="24" fill="#ccccdc" textLength="355.4" lengthAdjust="spacingAndGlyphs" stroke="#ccccdc" stroke-width="0.6">Maximum open file descriptors</text><rect x="446.2" y="551.3" width="28" height="8" rx="2" fill="#f2cc0c"/><text x="490.3" y="562.3" font-size="24" fill="#ccccdc" textLength="241.1" lengthAdjust="spacingAndGlyphs" stroke="#ccccdc" stroke-width="0.6">Open file descriptors</text></svg></section>
<section class="panel" style="left:32px;top:2008px;width:1560px;height:592px"><svg width="1560" height="592" viewBox="0 0 1560 592"><path d="M2,2H66L2,66Z" fill="#262930"/><g fill="#8e8fa0"><rect x="15.6" y="15.5" width="4.1" height="3.3" rx="0.4"/><path d="M14.3,21.7h5.4v6.9h1.9v3.1h-7.3v-3.1h2v-4.1h-2z"/></g><text x="727.82" y="43.8" font-size="28" fill="#ccccdc" textLength="104.35" lengthAdjust="spacingAndGlyphs" stroke="#ccccdc" stroke-width="1.1">Disk I/O</text><g stroke="#2b2f33" stroke-width="1" shape-rendering="crispEdges"><line x1="192.3" y1="98.4" x2="192.3" y2="492"/><line x1="352.35" y1="98.4" x2="352.35" y2="492"/><line x1="512.4" y1="98.4" x2="512.4" y2="492"/><line x1="672.45" y1="98.4" x2="672.45" y2="492"/><line x1="832.5" y1="98.4" x2="832.5" y2="492"/><line x1="992.55" y1="98.4" x2="992.55" y2="492"/><line x1="1152.6" y1="98.4" x2="1152.6" y2="492"/><line x1="1312.65" y1="98.4" x2="1312.65" y2="492"/><line x1="110.5" y1="179.3" x2="1462.6" y2="179.3"/><line x1="110.5" y1="281" x2="1462.6" y2="281"/><line x1="110.5" y1="382.5" x2="1462.6" y2="382.5"/><line x1="110.5" y1="484" x2="1462.6" y2="484"/></g><text x="17.57" y="185.4" font-size="24" fill="#ccccdc" textLength="81.73" lengthAdjust="spacingAndGlyphs" stroke="#ccccdc" stroke-width="0.6">15 kb/s</text><text x="17.21" y="287.1" font-size="24" fill="#ccccdc" textLength="82.09" lengthAdjust="spacingAndGlyphs" stroke="#ccccdc" stroke-width="0.6">10 kb/s</text><text x="28.53" y="388.6" font-size="24" fill="#ccccdc" textLength="70.77" lengthAdjust="spacingAndGlyphs" stroke="#ccccdc" stroke-width="0.6">5 kb/s</text><text x="41.32" y="490.1" font-size="24" fill="#ccccdc" textLength="57.98" lengthAdjust="spacingAndGlyphs" stroke="#ccccdc" stroke-width="0.6">0 b/s</text><text x="159.29" y="520.2" font-size="24" fill="#ccccdc" textLength="66.02" lengthAdjust="spacingAndGlyphs" stroke="#ccccdc" stroke-width="0.6">08:00</text><text x="319.52" y="520.2" font-size="24" fill="#ccccdc" textLength="65.65" lengthAdjust="spacingAndGlyphs" stroke="#ccccdc" stroke-width="0.6">08:05</text><text x="481.34" y="520.2" font-size="24" fill="#ccccdc" textLength="62.12" lengthAdjust="spacingAndGlyphs" stroke="#ccccdc" stroke-width="0.6">08:10</text><text x="641.57" y="520.2" font-size="24" fill="#ccccdc" textLength="61.75" lengthAdjust="spacingAndGlyphs" stroke="#ccccdc" stroke-width="0.6">08:15</text><text x="799.74" y="520.2" font-size="24" fill="#ccccdc" textLength="65.53" lengthAdjust="spacingAndGlyphs" stroke="#ccccdc" stroke-width="0.6">08:20</text><text x="959.97" y="520.2" font-size="24" fill="#ccccdc" textLength="65.16" lengthAdjust="spacingAndGlyphs" stroke="#ccccdc" stroke-width="0.6">08:25</text><text x="1119.59" y="520.2" font-size="24" fill="#ccccdc" textLength="66.02" lengthAdjust="spacingAndGlyphs" stroke="#ccccdc" stroke-width="0.6">08:30</text><text x="1279.82" y="520.2" font-size="24" fill="#ccccdc" textLength="65.65" lengthAdjust="spacingAndGlyphs" stroke="#ccccdc" stroke-width="0.6">08:35</text><g stroke="#2b2f33" stroke-width="1" shape-rendering="crispEdges"><line x1="1462.6" y1="98.5" x2="1470.7" y2="98.5"/><line x1="1462.6" y1="175.55" x2="1470.7" y2="175.55"/><line x1="1462.6" y1="252.6" x2="1470.7" y2="252.6"/><line x1="1462.6" y1="329.65" x2="1470.7" y2="329.65"/><line x1="1462.6" y1="406.7" x2="1470.7" y2="406.7"/><line x1="1462.6" y1="483.75" x2="1470.7" y2="483.75"/></g><text x="1480.6" y="104.6" font-size="24" fill="#ccccdc" textLength="60.66" lengthAdjust="spacingAndGlyphs" stroke="#ccccdc" stroke-width="0.6">100%</text><text x="1480.6" y="181.65" font-size="24" fill="#ccccdc" textLength="49.45" lengthAdjust="spacingAndGlyphs" stroke="#ccccdc" stroke-width="0.6">80%</text><text x="1480.6" y="258.7" font-size="24" fill="#ccccdc" textLength="49.69" lengthAdjust="spacingAndGlyphs" stroke="#ccccdc" stroke-width="0.6">60%</text><text x="1480.6" y="335.75" font-size="24" fill="#ccccdc" textLength="50.18" lengthAdjust="spacingAndGlyphs" stroke="#ccccdc" stroke-width="0.6">40%</text><text x="1480.6" y="412.8" font-size="24" fill="#ccccdc" textLength="49.21" lengthAdjust="spacingAndGlyphs" stroke="#ccccdc" stroke-width="0.6">20%</text><text x="1480.6" y="489.85" font-size="24" fill="#ccccdc" textLength="34.83" lengthAdjust="spacingAndGlyphs" stroke="#ccccdc" stroke-width="0.6">0%</text><defs><clipPath id="cp12"><rect x="118" y="90" width="1352" height="410"/></clipPath></defs><g clip-path="url(#cp12)"><path d="M112,483.75C117.33,483.75 122.67,483.75 128,483.75C133.33,483.75 138.67,483.75 144,483.75C149.33,483.75 154.67,483.75 160,483.75C165.33,483.75 170.67,483.75 176,483.75C181.33,483.75 186.67,483.75 192,483.75C197.33,483.75 202.67,483.75 208,483.75C213.33,483.75 218.67,483.75 224,483.75C229.33,483.75 234.67,483.75 240,483.75C245.33,483.75 250.67,483.75 256,483.75C261.33,483.75 266.67,483.75 272,483.75C277.33,483.75 282.67,483.75 288,483.75C293.33,483.75 298.67,483.75 304,483.75C309.33,483.75 314.67,483.75 320,483.75C325.33,483.75 330.67,483.75 336,483.75C341.33,483.75 346.67,483.75 352,483.75C357.33,483.75 362.67,483.75 368,483.75C373.33,483.75 378.67,483.75 384,483.75C389.33,483.75 394.67,483.75 400,483.75C405.33,483.75 410.67,483.75 416,483.75C421.33,483.75 426.67,483.75 432,483.75C437.33,483.75 442.67,483.75 448,483.75C453.33,483.75 458.67,483.75 464,483.75C469.33,483.75 474.67,483.75 480,483.75C485.33,483.75 490.67,483.75 496,483.75C501.33,483.75 506.67,483.75 512,483.75C517.33,483.75 522.67,483.75 528,483.75C533.33,483.75 538.67,483.75 544,483.75C549.33,483.75 554.67,483.75 560,483.75C565.33,483.75 570.67,483.75 576,483.75C581.33,483.75 586.67,483.75 592,483.75C597.33,483.75 602.67,483.75 608,483.75C613.33,483.75 618.67,483.75 624,483.75C629.33,483.75 634.67,483.75 640,483.75C645.33,483.75 650.67,473.3 656,473.3C661.33,473.3 666.67,473.3 672,473.3C677.33,473.3 682.67,473.3 688,473.3C693.33,473.3 698.67,473.3 704,473.3C709.33,473.3 714.67,483.75 720,483.75C725.33,483.75 730.67,483.75 736,483.75C741.33,483.75 746.67,483.75 752,483.75C757.33,483.75 762.67,483.75 768,483.75C773.33,483.75 778.67,483.75 784,483.75C789.33,483.75 794.67,483.75 800,483.75C805.33,483.75 810.67,483.75 816,483.75C821.33,483.75 826.67,483.75 832,483.75C837.33,483.75 842.67,483.75 848,483.75C853.33,483.75 858.67,483.75 864,483.75C869.33,483.75 874.67,483.75 880,483.75C885.33,483.75 890.67,483.75 896,483.75C901.33,483.75 906.67,483.75 912,483.75C917.33,483.75 922.67,483.75 928,483.75C933.33,483.75 938.67,483.75 944,483.75C949.33,483.75 954.67,483.75 960,483.75C965.33,483.75 970.67,483.75 976,483.75C981.33,483.75 986.67,483.75 992,483.75C997.33,483.75 1002.67,483.75 1008,483.75C1013.33,483.75 1018.67,483.75 1024,483.75C1029.33,483.75 1034.67,483.75 1040,483.75C1045.33,483.75 1050.67,483.75 1056,483.75C1061.33,483.75 1066.67,483.75 1072,483.75C1077.33,483.75 1082.67,483.75 1088,483.75C1093.33,483.75 1098.67,483.75 1104,483.75C1109.33,483.75 1114.67,483.75 1120,483.75C1125.33,483.75 1130.67,483.75 1136,483.75C1141.33,483.75 1146.67,483.75 1152,483.75C1157.33,483.75 1162.67,483.75 1168,483.75C1173.33,483.75 1178.67,483.75 1184,483.75C1189.33,483.75 1194.67,483.75 1200,483.75C1205.33,483.75 1210.67,483.75 1216,483.75C1221.33,483.75 1226.67,483.75 1232,483.75C1237.33,483.75 1242.67,483.75 1248,483.75C1253.33,483.75 1258.67,483.75 1264,483.75C1269.33,483.75 1274.67,483.75 1280,483.75C1285.33,483.75 1290.67,483.75 1296,483.75C1301.33,483.75 1306.67,483.75 1312,483.75C1317.33,483.75 1322.67,483.75 1328,483.75C1333.33,483.75 1338.67,483.75 1344,483.75C1349.33,483.75 1354.67,483.75 1360,483.75C1365.33,483.75 1370.67,483.75 1376,483.75C1381.33,483.75 1386.67,483.75 1392,483.75C1397.33,483.75 1402.67,483.75 1408,483.75C1413.33,483.75 1418.67,483.75 1424,483.75C1429.33,483.75 1434.67,483.75 1440,483.75C1445.33,483.75 1450.67,483.75 1456,483.75" fill="none" stroke="#73bf69" stroke-width="2"/><path d="M112,247C117.33,232.83 122.67,204.5 128,204.5C133.33,204.5 138.67,220 144,220C149.33,220 154.67,206.95 160,197C165.33,187.05 170.67,154.5 176,154.5C181.33,154.5 186.67,164 192,164C197.33,164 202.67,157 208,157C213.33,157 218.67,164.99 224,167.75C229.33,170.51 234.67,171.08 240,174.5C245.33,177.92 250.67,195.75 256,195.75C261.33,195.75 266.67,182.5 272,182.5C277.33,182.5 282.67,184.66 288,187.5C293.33,190.34 298.67,216.5 304,216.5C309.33,216.5 314.67,210.5 320,210.5C325.33,210.5 330.67,217.75 336,217.75C341.33,217.75 346.67,216.95 352,215.75C357.33,214.55 362.67,202.29 368,197C373.33,191.71 378.67,189.62 384,183.25C389.33,176.88 394.67,152 400,152C405.33,152 410.67,177 416,177C421.33,177 426.67,162.75 432,162.75C437.33,162.75 442.67,183.75 448,183.75C453.33,183.75 458.67,183.75 464,183.75C469.33,183.75 474.67,166 480,166C485.33,166 490.67,206 496,206C501.33,206 506.67,190.75 512,190.75C517.33,190.75 522.67,201 528,201C533.33,201 538.67,198.57 544,195.75C549.33,192.93 554.67,174 560,174C565.33,174 570.67,174.3 576,174.75C581.33,175.2 586.67,181.5 592,181.5C597.33,181.5 602.67,181.5 608,181.5C613.33,181.5 618.67,176.5 624,176.5C629.33,176.5 634.67,189.75 640,189.75C645.33,189.75 650.67,181.5 656,181.5C661.33,181.5 666.67,184.45 672,187.5C677.33,190.55 682.67,206.75 688,206.75C693.33,206.75 698.67,172.75 704,172.75C709.33,172.75 714.67,189.5 720,189.5C725.33,189.5 730.67,188.75 736,188.75C741.33,188.75 746.67,188.75 752,188.75C757.33,188.75 762.67,216.75 768,216.75C773.33,216.75 778.67,209.93 784,207.5C789.33,205.07 794.67,204.58 800,201.5C805.33,198.42 810.67,181.5 816,181.5C821.33,181.5 826.67,181.5 832,181.5C837.33,181.5 842.67,184.64 848,186.75C853.33,188.86 858.67,191.33 864,194.75C869.33,198.17 874.67,209 880,209C885.33,209 890.67,177.75 896,177.75C901.33,177.75 906.67,189.46 912,193.75C917.33,198.04 922.67,200.84 928,204.5C933.33,208.16 938.67,210.44 944,215.75C949.33,221.06 954.67,241.47 960,243C965.33,244.53 970.67,245.5 976,245.5C981.33,245.5 986.67,205.67 992,192C997.33,178.33 1002.67,158.75 1008,158.75C1013.33,158.75 1018.67,161.5 1024,161.5C1029.33,161.5 1034.67,140.75 1040,140.75C1045.33,140.75 1050.67,186.75 1056,186.75C1061.33,186.75 1066.67,182.66 1072,180.75C1077.33,178.84 1082.67,175.25 1088,175.25C1093.33,175.25 1098.67,188.5 1104,188.5C1109.33,188.5 1114.67,184.75 1120,184.75C1125.33,184.75 1130.67,221.08 1136,222.5C1141.33,223.92 1146.67,224.75 1152,224.75C1157.33,224.75 1162.67,218.12 1168,213.5C1173.33,208.88 1178.67,202.42 1184,195.5C1189.33,188.58 1194.67,175.82 1200,171C1205.33,166.18 1210.67,163.8 1216,160.75C1221.33,157.7 1226.67,152.5 1232,152.5C1237.33,152.5 1242.67,172.75 1248,172.75C1253.33,172.75 1258.67,167.25 1264,167.25C1269.33,167.25 1274.67,192.29 1280,199C1285.33,205.71 1290.67,213.75 1296,213.75C1301.33,213.75 1306.67,189.25 1312,189.25C1317.33,189.25 1322.67,217.75 1328,217.75C1333.33,217.75 1338.67,188.5 1344,188.5C1349.33,188.5 1354.67,197.75 1360,197.75C1365.33,197.75 1370.67,193.34 1376,190.75C1381.33,188.16 1386.67,186.62 1392,182C1397.33,177.38 1402.67,148.75 1408,148.75C1413.33,148.75 1418.67,156.09 1424,162C1429.33,167.91 1434.67,185.48 1440,188.75C1445.33,192.02 1450.67,192.75 1456,194.75" fill="none" stroke="#8ab8ff" stroke-width="2"/><line x1="118" y1="483.75" x2="1456" y2="483.75" stroke="#ff780a" stroke-width="2"/></g><g fill="#f2495c"><circle cx="128" cy="119.75" r="5"/><circle cx="144" cy="120.75" r="5"/><circle cx="160" cy="116" r="5"/><circle cx="176" cy="112" r="5"/><circle cx="192" cy="112.75" r="5"/><circle cx="208" cy="112.75" r="5"/><circle cx="224" cy="125.75" r="5"/><circle cx="240" cy="118.75" r="5"/><circle cx="256" cy="125.75" r="5"/><circle cx="272" cy="126.75" r="5"/><circle cx="288" cy="116" r="5"/><circle cx="304" cy="115" r="5"/><circle cx="320" cy="114.75" r="5"/><circle cx="336" cy="114.75" r="5"/><circle cx="352" cy="121.75" r="5"/><circle cx="368" cy="125.75" r="5"/><circle cx="384" cy="120.75" r="5"/><circle cx="400" cy="119.75" r="5"/><circle cx="416" cy="123.75" r="5"/><circle cx="432" cy="128.75" r="5"/><circle cx="448" cy="138.75" r="5"/><circle cx="464" cy="139.75" r="5"/><circle cx="480" cy="125.75" r="5"/><circle cx="496" cy="121.75" r="5"/><circle cx="512" cy="119.75" r="5"/><circle cx="528" cy="127.75" r="5"/><circle cx="544" cy="128.75" r="5"/><circle cx="560" cy="128.75" r="5"/><circle cx="576" cy="133.75" r="5"/><circle cx="592" cy="127.75" r="5"/><circle cx="608" cy="136.25" r="5"/><circle cx="624" cy="132.75" r="5"/><circle cx="640" cy="126.75" r="5"/><circle cx="656" cy="128.75" r="5"/><circle cx="672" cy="132" r="5"/><circle cx="688" cy="131" r="5"/><circle cx="704" cy="127" r="5"/><circle cx="720" cy="123" r="5"/><circle cx="736" cy="118" r="5"/><circle cx="752" cy="121" r="5"/><circle cx="768" cy="117.75" r="5"/><circle cx="784" cy="117.75" r="5"/><circle cx="800" cy="112" r="5"/><circle cx="816" cy="111" r="5"/><circle cx="832" cy="112.75" r="5"/><circle cx="848" cy="114.75" r="5"/><circle cx="864" cy="121.75" r="5"/><circle cx="880" cy="124.75" r="5"/><circle cx="896" cy="119.75" r="5"/><circle cx="912" cy="117.75" r="5"/><circle cx="928" cy="118.75" r="5"/><circle cx="944" cy="117" r="5"/><circle cx="960" cy="123" r="5"/><circle cx="976" cy="124" r="5"/><circle cx="992" cy="123" r="5"/><circle cx="1008" cy="123" r="5"/><circle cx="1024" cy="120.75" r="5"/><circle cx="1040" cy="123" r="5"/><circle cx="1056" cy="121.75" r="5"/><circle cx="1072" cy="130" r="5"/><circle cx="1088" cy="123" r="5"/><circle cx="1104" cy="125.75" r="5"/><circle cx="1120" cy="131" r="5"/><circle cx="1136" cy="123" r="5"/><circle cx="1152" cy="130" r="5"/><circle cx="1168" cy="124" r="5"/><circle cx="1184" cy="118.75" r="5"/><circle cx="1200" cy="121.75" r="5"/><circle cx="1216" cy="129" r="5"/><circle cx="1232" cy="129" r="5"/><circle cx="1248" cy="129" r="5"/><circle cx="1264" cy="124.75" r="5"/><circle cx="1280" cy="117.75" r="5"/><circle cx="1296" cy="132.75" r="5"/><circle cx="1312" cy="133.75" r="5"/><circle cx="1328" cy="134.75" r="5"/><circle cx="1344" cy="129.75" r="5"/><circle cx="1360" cy="113.75" r="5"/><circle cx="1376" cy="110.75" r="5"/><circle cx="1392" cy="125" r="5"/><circle cx="1408" cy="122" r="5"/><circle cx="1424" cy="127.75" r="5"/><circle cx="1440" cy="124.75" r="5"/><circle cx="1456" cy="111.75" r="5"/></g><g fill="#5794f2"><circle cx="128" cy="483.75" r="5"/><circle cx="144" cy="483.75" r="5"/><circle cx="160" cy="483.75" r="5"/><circle cx="176" cy="483.75" r="5"/><circle cx="192" cy="483.75" r="5"/><circle cx="208" cy="483.75" r="5"/><circle cx="224" cy="483.75" r="5"/><circle cx="240" cy="483.75" r="5"/><circle cx="256" cy="483.75" r="5"/><circle cx="272" cy="483.75" r="5"/><circle cx="288" cy="483.75" r="5"/><circle cx="304" cy="483.75" r="5"/><circle cx="320" cy="483.75" r="5"/><circle cx="336" cy="483.75" r="5"/><circle cx="352" cy="483.75" r="5"/><circle cx="368" cy="483.75" r="5"/><circle cx="384" cy="483.75" r="5"/><circle cx="400" cy="483.75" r="5"/><circle cx="416" cy="483.75" r="5"/><circle cx="432" cy="483.75" r="5"/><circle cx="448" cy="483.75" r="5"/><circle cx="464" cy="483.75" r="5"/><circle cx="480" cy="483.75" r="5"/><circle cx="496" cy="483.75" r="5"/><circle cx="512" cy="483.75" r="5"/><circle cx="528" cy="483.75" r="5"/><circle cx="544" cy="483.75" r="5"/><circle cx="560" cy="483.75" r="5"/><circle cx="576" cy="483.75" r="5"/><circle cx="592" cy="483.75" r="5"/><circle cx="608" cy="483.75" r="5"/><circle cx="624" cy="483.75" r="5"/><circle cx="640" cy="483.75" r="5"/><circle cx="656" cy="483.75" r="5"/><circle cx="672" cy="483.75" r="5"/><circle cx="688" cy="483.75" r="5"/><circle cx="704" cy="483.75" r="5"/><circle cx="720" cy="483.75" r="5"/><circle cx="736" cy="483.75" r="5"/><circle cx="752" cy="483.75" r="5"/><circle cx="768" cy="483.75" r="5"/><circle cx="784" cy="483.75" r="5"/><circle cx="800" cy="483.75" r="5"/><circle cx="816" cy="483.75" r="5"/><circle cx="832" cy="483.75" r="5"/><circle cx="848" cy="483.75" r="5"/><circle cx="864" cy="483.75" r="5"/><circle cx="880" cy="483.75" r="5"/><circle cx="896" cy="483.75" r="5"/><circle cx="912" cy="483.75" r="5"/><circle cx="928" cy="483.75" r="5"/><circle cx="944" cy="483.75" r="5"/><circle cx="960" cy="483.75" r="5"/><circle cx="976" cy="483.75" r="5"/><circle cx="992" cy="483.75" r="5"/><circle cx="1008" cy="483.75" r="5"/><circle cx="1024" cy="483.75" r="5"/><circle cx="1040" cy="483.75" r="5"/><circle cx="1056" cy="483.75" r="5"/><circle cx="1072" cy="483.75" r="5"/><circle cx="1088" cy="483.75" r="5"/><circle cx="1104" cy="483.75" r="5"/><circle cx="1120" cy="483.75" r="5"/><circle cx="1136" cy="483.75" r="5"/><circle cx="1152" cy="483.75" r="5"/><circle cx="1168" cy="483.75" r="5"/><circle cx="1184" cy="483.75" r="5"/><circle cx="1200" cy="483.75" r="5"/><circle cx="1216" cy="483.75" r="5"/><circle cx="1232" cy="483.75" r="5"/><circle cx="1248" cy="483.75" r="5"/><circle cx="1264" cy="483.75" r="5"/><circle cx="1280" cy="483.75" r="5"/><circle cx="1296" cy="483.75" r="5"/><circle cx="1312" cy="483.75" r="5"/><circle cx="1328" cy="483.75" r="5"/><circle cx="1344" cy="483.75" r="5"/><circle cx="1360" cy="483.75" r="5"/><circle cx="1376" cy="483.75" r="5"/><circle cx="1392" cy="483.75" r="5"/><circle cx="1408" cy="483.75" r="5"/><circle cx="1424" cy="483.75" r="5"/><circle cx="1440" cy="483.75" r="5"/><circle cx="1456" cy="483.75" r="5"/></g><rect x="25.9" y="550.8" width="28" height="8" rx="2" fill="#73bf69"/><text x="70" y="562" font-size="24" fill="#ccccdc" textLength="99.8" lengthAdjust="spacingAndGlyphs" stroke="#ccccdc" stroke-width="0.6">sda read</text><rect x="190.6" y="550.8" width="28" height="8" rx="2" fill="#f2cc0c"/><text x="234.7" y="562" font-size="24" fill="#ccccdc" textLength="94.7" lengthAdjust="spacingAndGlyphs" stroke="#ccccdc" stroke-width="0.6">sr0 read</text><rect x="350.2" y="550.8" width="28" height="8" rx="2" fill="#8ab8ff"/><text x="394.3" y="562" font-size="24" fill="#ccccdc" textLength="128.5" lengthAdjust="spacingAndGlyphs" stroke="#ccccdc" stroke-width="0.6">sda written</text><rect x="543.6" y="550.8" width="28" height="8" rx="2" fill="#ff780a"/><text x="587.7" y="562" font-size="24" fill="#ccccdc" textLength="124.3" lengthAdjust="spacingAndGlyphs" stroke="#ccccdc" stroke-width="0.6">sr0 written</text><rect x="1165" y="550.8" width="28" height="8" rx="2" fill="#f2495c"/><text x="1209.6" y="562" font-size="24" fill="#ccccdc" textLength="125.4" lengthAdjust="spacingAndGlyphs" stroke="#ccccdc" stroke-width="0.6">sda io time</text><rect x="1356" y="550.8" width="28" height="8" rx="2" fill="#5794f2"/><text x="1400.6" y="562" font-size="24" fill="#ccccdc" textLength="120.4" lengthAdjust="spacingAndGlyphs" stroke="#ccccdc" stroke-width="0.6">sr0 io time</text></svg></section>
<section class="panel" style="left:1608px;top:2008px;width:1560px;height:592px"><svg width="1560" height="592" viewBox="0 0 1560 592"><path d="M2,2H66L2,66Z" fill="#262930"/><g fill="#8e8fa0"><rect x="15.6" y="15.5" width="4.1" height="3.3" rx="0.4"/><path d="M14.3,21.7h5.4v6.9h1.9v3.1h-7.3v-3.1h2v-4.1h-2z"/></g><text x="642.13" y="43.8" font-size="28" fill="#ccccdc" textLength="275.73" lengthAdjust="spacingAndGlyphs" stroke="#ccccdc" stroke-width="1.1">Disk IOps completed</text><g stroke="#2b2f33" stroke-width="1" shape-rendering="crispEdges"><line x1="251.5" y1="98.4" x2="251.5" y2="491.4"/><line x1="412" y1="98.4" x2="412" y2="491.4"/><line x1="572.5" y1="98.4" x2="572.5" y2="491.4"/><line x1="733" y1="98.4" x2="733" y2="491.4"/><line x1="893.5" y1="98.4" x2="893.5" y2="491.4"/><line x1="1054" y1="98.4" x2="1054" y2="491.4"/><line x1="1214.5" y1="98.4" x2="1214.5" y2="491.4"/><line x1="1375" y1="98.4" x2="1375" y2="491.4"/><line x1="169" y1="134.5" x2="1527" y2="134.5"/><line x1="169" y1="195.5" x2="1527" y2="195.5"/><line x1="169" y1="255.5" x2="1527" y2="255.5"/><line x1="169" y1="315.5" x2="1527" y2="315.5"/><line x1="169" y1="375.5" x2="1527" y2="375.5"/><line x1="169" y1="435.5" x2="1527" y2="435.5"/></g><text x="72.79" y="140.6" font-size="24" fill="#ccccdc" textLength="84.41" lengthAdjust="spacingAndGlyphs" stroke="#ccccdc" stroke-width="0.6">2.5 io/s</text><text x="94.11" y="201.6" font-size="24" fill="#ccccdc" textLength="63.09" lengthAdjust="spacingAndGlyphs" stroke="#ccccdc" stroke-width="0.6">2 io/s</text><text x="76.2" y="261.6" font-size="24" fill="#ccccdc" textLength="81" lengthAdjust="spacingAndGlyphs" stroke="#ccccdc" stroke-width="0.6">1.5 io/s</text><text x="97.52" y="321.6" font-size="24" fill="#ccccdc" textLength="59.68" lengthAdjust="spacingAndGlyphs" stroke="#ccccdc" stroke-width="0.6">1 io/s</text><text x="72.31" y="381.6" font-size="24" fill="#ccccdc" textLength="84.89" lengthAdjust="spacingAndGlyphs" stroke="#ccccdc" stroke-width="0.6">0.5 io/s</text><text x="93.62" y="441.6" font-size="24" fill="#ccccdc" textLength="63.58" lengthAdjust="spacingAndGlyphs" stroke="#ccccdc" stroke-width="0.6">0 io/s</text><text x="218.49" y="521.2" font-size="24" fill="#ccccdc" textLength="66.02" lengthAdjust="spacingAndGlyphs" stroke="#ccccdc" stroke-width="0.6">08:00</text><text x="379.17" y="521.2" font-size="24" fill="#ccccdc" textLength="65.65" lengthAdjust="spacingAndGlyphs" stroke="#ccccdc" stroke-width="0.6">08:05</text><text x="541.44" y="521.2" font-size="24" fill="#ccccdc" textLength="62.12" lengthAdjust="spacingAndGlyphs" stroke="#ccccdc" stroke-width="0.6">08:10</text><text x="702.12" y="521.2" font-size="24" fill="#ccccdc" textLength="61.75" lengthAdjust="spacingAndGlyphs" stroke="#ccccdc" stroke-width="0.6">08:15</text><text x="860.74" y="521.2" font-size="24" fill="#ccccdc" textLength="65.53" lengthAdjust="spacingAndGlyphs" stroke="#ccccdc" stroke-width="0.6">08:20</text><text x="1021.42" y="521.2" font-size="24" fill="#ccccdc" textLength="65.16" lengthAdjust="spacingAndGlyphs" stroke="#ccccdc" stroke-width="0.6">08:25</text><text x="1181.49" y="521.2" font-size="24" fill="#ccccdc" textLength="66.02" lengthAdjust="spacingAndGlyphs" stroke="#ccccdc" stroke-width="0.6">08:30</text><text x="1342.17" y="521.2" font-size="24" fill="#ccccdc" textLength="65.65" lengthAdjust="spacingAndGlyphs" stroke="#ccccdc" stroke-width="0.6">08:35</text><g transform="translate(28.3,290.7) rotate(-90)"><text x="-96.1" y="8.5" font-size="24" fill="#ccccdc" textLength="192.2" lengthAdjust="spacingAndGlyphs" stroke="#ccccdc" stroke-width="0.6">read(-) | write(+)</text></g><defs><clipPath id="cp13"><rect x="176" y="90" width="1344.5" height="410"/></clipPath><linearGradient id="lg14" gradientUnits="userSpaceOnUse" x1="0" y1="98.4" x2="0" y2="483.8"><stop offset="0" stop-color="#8ab8ff" stop-opacity="0.1"/><stop offset="1" stop-color="#8ab8ff" stop-opacity="0"/></linearGradient></defs><g clip-path="url(#cp13)"><path d="M171.25,317C176.6,278.83 181.95,202.5 187.3,202.5C192.65,202.5 198,322.5 203.35,322.5C208.7,322.5 214.05,258.54 219.4,227C224.75,195.46 230.1,133.25 235.45,133.25C240.8,133.25 246.15,249.89 251.5,267C256.85,284.11 262.2,298.75 267.55,298.75C272.9,298.75 278.25,289.93 283.6,278.25C288.95,266.57 294.3,157.5 299.65,157.5C305,157.5 310.35,319 315.7,319C321.05,319 326.4,271.99 331.75,267C337.1,262.01 342.45,258.25 347.8,258.25C353.15,258.25 358.5,295 363.85,295C369.2,295 374.55,270.25 379.9,270.25C385.25,270.25 390.6,314.5 395.95,314.5C401.3,314.5 406.65,263.3 412,258.25C417.35,253.2 422.7,254.29 428.05,249.5C433.4,244.71 438.75,222.75 444.1,209.5C449.45,196.25 454.8,170 460.15,170C465.5,170 470.85,370.75 476.2,370.75C481.55,370.75 486.9,157.5 492.25,157.5C497.6,157.5 502.95,335 508.3,335C513.65,335 519,181.5 524.35,181.5C529.7,181.5 535.05,299.24 540.4,309.5C545.75,319.76 551.1,327 556.45,327C561.8,327 567.15,226.13 572.5,223.25C577.85,220.37 583.2,218.75 588.55,218.75C593.9,218.75 599.25,287 604.6,287C609.95,287 615.3,214.5 620.65,214.5C626,214.5 631.35,319 636.7,319C642.05,319 647.4,234.5 652.75,234.5C658.1,234.5 663.45,258.75 668.8,258.75C674.15,258.75 679.5,214.5 684.85,214.5C690.2,214.5 695.55,330.75 700.9,330.75C706.25,330.75 711.6,299.17 716.95,284.5C722.3,269.83 727.65,242.5 733,242.5C738.35,242.5 743.7,299 749.05,299C754.4,299 759.75,198.75 765.1,198.75C770.45,198.75 775.8,282.33 781.15,282.5C786.5,282.67 791.85,282.75 797.2,282.75C802.55,282.75 807.9,278.25 813.25,278.25C818.6,278.25 823.95,302.75 829.3,302.75C834.65,302.75 840,260.67 845.35,255.75C850.7,250.83 856.05,249.92 861.4,247C866.75,244.08 872.1,238.25 877.45,238.25C882.8,238.25 888.15,271.47 893.5,274C898.85,276.53 904.2,276.79 909.55,278.25C914.9,279.71 920.25,282.75 925.6,282.75C930.95,282.75 936.3,282.75 941.65,282.75C947,282.75 952.35,153.25 957.7,153.25C963.05,153.25 968.4,338.75 973.75,338.75C979.1,338.75 984.45,302.75 989.8,302.75C995.15,302.75 1000.5,302.75 1005.85,302.75C1011.2,302.75 1016.55,258.75 1021.9,258.75C1027.25,258.75 1032.6,327 1037.95,327C1043.3,327 1048.65,157.5 1054,157.5C1059.35,157.5 1064.7,203.73 1070.05,224.5C1075.4,245.27 1080.75,282.75 1086.1,282.75C1091.45,282.75 1096.8,234.5 1102.15,234.5C1107.5,234.5 1112.85,302.75 1118.2,302.75C1123.55,302.75 1128.9,153.25 1134.25,153.25C1139.6,153.25 1144.95,269.92 1150.3,284.5C1155.65,299.08 1161,310.75 1166.35,310.75C1171.7,310.75 1177.05,270.75 1182.4,270.75C1187.75,270.75 1193.1,299 1198.45,299C1203.8,299 1209.15,254.5 1214.5,254.5C1219.85,254.5 1225.2,258.75 1230.55,258.75C1235.9,258.75 1241.25,249.84 1246.6,242C1251.95,234.16 1257.3,202.5 1262.65,202.5C1268,202.5 1273.35,282.75 1278.7,282.75C1284.05,282.75 1289.4,246.5 1294.75,246.5C1300.1,246.5 1305.45,258.75 1310.8,258.75C1316.15,258.75 1321.5,185.75 1326.85,185.75C1332.2,185.75 1337.55,375 1342.9,375C1348.25,375 1353.6,303.35 1358.95,277C1364.3,250.65 1369.65,210.75 1375,210.75C1380.35,210.75 1385.7,290.75 1391.05,290.75C1396.4,290.75 1401.75,230.75 1407.1,230.75C1412.45,230.75 1417.8,339 1423.15,339C1428.5,339 1433.85,210.75 1439.2,210.75C1444.55,210.75 1449.9,230.75 1455.25,230.75C1460.6,230.75 1465.95,153.25 1471.3,153.25C1476.65,153.25 1482,350.75 1487.35,350.75C1492.7,350.75 1498.05,266.25 1503.4,266.25C1508.75,266.25 1514.1,274.25 1519.45,278.25L1519.45,435.9L171.25,435.9Z" fill="url(#lg14)"/><path d="M171.25,317C176.6,278.83 181.95,202.5 187.3,202.5C192.65,202.5 198,322.5 203.35,322.5C208.7,322.5 214.05,258.54 219.4,227C224.75,195.46 230.1,133.25 235.45,133.25C240.8,133.25 246.15,249.89 251.5,267C256.85,284.11 262.2,298.75 267.55,298.75C272.9,298.75 278.25,289.93 283.6,278.25C288.95,266.57 294.3,157.5 299.65,157.5C305,157.5 310.35,319 315.7,319C321.05,319 326.4,271.99 331.75,267C337.1,262.01 342.45,258.25 347.8,258.25C353.15,258.25 358.5,295 363.85,295C369.2,295 374.55,270.25 379.9,270.25C385.25,270.25 390.6,314.5 395.95,314.5C401.3,314.5 406.65,263.3 412,258.25C417.35,253.2 422.7,254.29 428.05,249.5C433.4,244.71 438.75,222.75 444.1,209.5C449.45,196.25 454.8,170 460.15,170C465.5,170 470.85,370.75 476.2,370.75C481.55,370.75 486.9,157.5 492.25,157.5C497.6,157.5 502.95,335 508.3,335C513.65,335 519,181.5 524.35,181.5C529.7,181.5 535.05,299.24 540.4,309.5C545.75,319.76 551.1,327 556.45,327C561.8,327 567.15,226.13 572.5,223.25C577.85,220.37 583.2,218.75 588.55,218.75C593.9,218.75 599.25,287 604.6,287C609.95,287 615.3,214.5 620.65,214.5C626,214.5 631.35,319 636.7,319C642.05,319 647.4,234.5 652.75,234.5C658.1,234.5 663.45,258.75 668.8,258.75C674.15,258.75 679.5,214.5 684.85,214.5C690.2,214.5 695.55,330.75 700.9,330.75C706.25,330.75 711.6,299.17 716.95,284.5C722.3,269.83 727.65,242.5 733,242.5C738.35,242.5 743.7,299 749.05,299C754.4,299 759.75,198.75 765.1,198.75C770.45,198.75 775.8,282.33 781.15,282.5C786.5,282.67 791.85,282.75 797.2,282.75C802.55,282.75 807.9,278.25 813.25,278.25C818.6,278.25 823.95,302.75 829.3,302.75C834.65,302.75 840,260.67 845.35,255.75C850.7,250.83 856.05,249.92 861.4,247C866.75,244.08 872.1,238.25 877.45,238.25C882.8,238.25 888.15,271.47 893.5,274C898.85,276.53 904.2,276.79 909.55,278.25C914.9,279.71 920.25,282.75 925.6,282.75C930.95,282.75 936.3,282.75 941.65,282.75C947,282.75 952.35,153.25 957.7,153.25C963.05,153.25 968.4,338.75 973.75,338.75C979.1,338.75 984.45,302.75 989.8,302.75C995.15,302.75 1000.5,302.75 1005.85,302.75C1011.2,302.75 1016.55,258.75 1021.9,258.75C1027.25,258.75 1032.6,327 1037.95,327C1043.3,327 1048.65,157.5 1054,157.5C1059.35,157.5 1064.7,203.73 1070.05,224.5C1075.4,245.27 1080.75,282.75 1086.1,282.75C1091.45,282.75 1096.8,234.5 1102.15,234.5C1107.5,234.5 1112.85,302.75 1118.2,302.75C1123.55,302.75 1128.9,153.25 1134.25,153.25C1139.6,153.25 1144.95,269.92 1150.3,284.5C1155.65,299.08 1161,310.75 1166.35,310.75C1171.7,310.75 1177.05,270.75 1182.4,270.75C1187.75,270.75 1193.1,299 1198.45,299C1203.8,299 1209.15,254.5 1214.5,254.5C1219.85,254.5 1225.2,258.75 1230.55,258.75C1235.9,258.75 1241.25,249.84 1246.6,242C1251.95,234.16 1257.3,202.5 1262.65,202.5C1268,202.5 1273.35,282.75 1278.7,282.75C1284.05,282.75 1289.4,246.5 1294.75,246.5C1300.1,246.5 1305.45,258.75 1310.8,258.75C1316.15,258.75 1321.5,185.75 1326.85,185.75C1332.2,185.75 1337.55,375 1342.9,375C1348.25,375 1353.6,303.35 1358.95,277C1364.3,250.65 1369.65,210.75 1375,210.75C1380.35,210.75 1385.7,290.75 1391.05,290.75C1396.4,290.75 1401.75,230.75 1407.1,230.75C1412.45,230.75 1417.8,339 1423.15,339C1428.5,339 1433.85,210.75 1439.2,210.75C1444.55,210.75 1449.9,230.75 1455.25,230.75C1460.6,230.75 1465.95,153.25 1471.3,153.25C1476.65,153.25 1482,350.75 1487.35,350.75C1492.7,350.75 1498.05,266.25 1503.4,266.25C1508.75,266.25 1514.1,274.25 1519.45,278.25" fill="none" stroke="#8ab8ff" stroke-width="2" stroke-linejoin="round"/></g><path d="M684.85,435.9C690.2,435.9 695.55,435.9 700.9,435.9C706.25,435.9 711.6,447.2 716.95,447.2C722.3,447.2 727.65,435.9 733,435.9C738.35,435.9 743.7,435.9 749.05,435.9" fill="none" stroke="#73bf69" stroke-width="2"/><line x1="176" y1="435.9" x2="1520.5" y2="435.9" stroke="#ff780a" stroke-width="2"/><rect x="25.9" y="551.3" width="28" height="8" rx="2" fill="#73bf69"/><text x="70" y="562.3" font-size="24" fill="#ccccdc" textLength="242" lengthAdjust="spacingAndGlyphs" stroke="#ccccdc" stroke-width="0.6">sda reads completed</text><rect x="332.8" y="551.3" width="28" height="8" rx="2" fill="#f2cc0c"/><text x="376.9" y="562.3" font-size="24" fill="#ccccdc" textLength="238.7" lengthAdjust="spacingAndGlyphs" stroke="#ccccdc" stroke-width="0.6">sr0 reads completed</text><rect x="636.4" y="551.3" width="28" height="8" rx="2" fill="#8ab8ff"/><text x="680.5" y="562.3" font-size="24" fill="#ccccdc" textLength="247.6" lengthAdjust="spacingAndGlyphs" stroke="#ccccdc" stroke-width="0.6">sda writes completed</text><rect x="948.9" y="551.3" width="28" height="8" rx="2" fill="#ff780a"/><text x="993" y="562.3" font-size="24" fill="#ccccdc" textLength="243.8" lengthAdjust="spacingAndGlyphs" stroke="#ccccdc" stroke-width="0.6">sr0 writes completed</text></svg></section>
<section class="panel" style="left:32px;top:2616px;width:1560px;height:592px"><svg width="1560" height="592" viewBox="0 0 1560 592"><path d="M2,2H66L2,66Z" fill="#262930"/><g fill="#8e8fa0"><rect x="15.6" y="15.5" width="4.1" height="3.3" rx="0.4"/><path d="M14.3,21.7h5.4v6.9h1.9v3.1h-7.3v-3.1h2v-4.1h-2z"/></g><text x="621.35" y="43.8" font-size="28" fill="#ccccdc" textLength="317.3" lengthAdjust="spacingAndGlyphs" stroke="#ccccdc" stroke-width="1.1">Disk Average Wait Time</text><g stroke="#2b2f33" stroke-width="1" shape-rendering="crispEdges"><line x1="247.5" y1="98.4" x2="247.5" y2="491.4"/><line x1="408.5" y1="98.4" x2="408.5" y2="491.4"/><line x1="569.5" y1="98.4" x2="569.5" y2="491.4"/><line x1="730.5" y1="98.4" x2="730.5" y2="491.4"/><line x1="891.5" y1="98.4" x2="891.5" y2="491.4"/><line x1="1052.5" y1="98.4" x2="1052.5" y2="491.4"/><line x1="1213.5" y1="98.4" x2="1213.5" y2="491.4"/><line x1="1374.5" y1="98.4" x2="1374.5" y2="491.4"/><line x1="164.8" y1="149.5" x2="1526" y2="149.5"/><line x1="164.8" y1="212.5" x2="1526" y2="212.5"/><line x1="164.8" y1="275.5" x2="1526" y2="275.5"/><line x1="164.8" y1="338.5" x2="1526" y2="338.5"/><line x1="164.8" y1="402.5" x2="1526" y2="402.5"/><line x1="164.8" y1="465.5" x2="1526" y2="465.5"/></g><text x="82.6" y="155.6" font-size="24" fill="#ccccdc" textLength="70.4" lengthAdjust="spacingAndGlyphs" stroke="#ccccdc" stroke-width="0.6">30 ms</text><text x="83.09" y="218.6" font-size="24" fill="#ccccdc" textLength="69.91" lengthAdjust="spacingAndGlyphs" stroke="#ccccdc" stroke-width="0.6">20 ms</text><text x="86.5" y="281.6" font-size="24" fill="#ccccdc" textLength="66.5" lengthAdjust="spacingAndGlyphs" stroke="#ccccdc" stroke-width="0.6">10 ms</text><text x="118.65" y="344.6" font-size="24" fill="#ccccdc" textLength="34.35" lengthAdjust="spacingAndGlyphs" stroke="#ccccdc" stroke-width="0.6">0 s</text><text x="75.54" y="408.6" font-size="24" fill="#ccccdc" textLength="77.46" lengthAdjust="spacingAndGlyphs" stroke="#ccccdc" stroke-width="0.6">-10 ms</text><text x="72.12" y="471.6" font-size="24" fill="#ccccdc" textLength="80.88" lengthAdjust="spacingAndGlyphs" stroke="#ccccdc" stroke-width="0.6">-20 ms</text><text x="214.49" y="521.2" font-size="24" fill="#ccccdc" textLength="66.02" lengthAdjust="spacingAndGlyphs" stroke="#ccccdc" stroke-width="0.6">08:00</text><text x="375.67" y="521.2" font-size="24" fill="#ccccdc" textLength="65.65" lengthAdjust="spacingAndGlyphs" stroke="#ccccdc" stroke-width="0.6">08:05</text><text x="538.44" y="521.2" font-size="24" fill="#ccccdc" textLength="62.12" lengthAdjust="spacingAndGlyphs" stroke="#ccccdc" stroke-width="0.6">08:10</text><text x="699.62" y="521.2" font-size="24" fill="#ccccdc" textLength="61.75" lengthAdjust="spacingAndGlyphs" stroke="#ccccdc" stroke-width="0.6">08:15</text><text x="858.74" y="521.2" font-size="24" fill="#ccccdc" textLength="65.53" lengthAdjust="spacingAndGlyphs" stroke="#ccccdc" stroke-width="0.6">08:20</text><text x="1019.92" y="521.2" font-size="24" fill="#ccccdc" textLength="65.16" lengthAdjust="spacingAndGlyphs" stroke="#ccccdc" stroke-width="0.6">08:25</text><text x="1180.49" y="521.2" font-size="24" fill="#ccccdc" textLength="66.02" lengthAdjust="spacingAndGlyphs" stroke="#ccccdc" stroke-width="0.6">08:30</text><text x="1341.67" y="521.2" font-size="24" fill="#ccccdc" textLength="65.65" lengthAdjust="spacingAndGlyphs" stroke="#ccccdc" stroke-width="0.6">08:35</text><g transform="translate(28.3,290.7) rotate(-90)"><text x="-96.1" y="8.5" font-size="24" fill="#ccccdc" textLength="192.2" lengthAdjust="spacingAndGlyphs" stroke="#ccccdc" stroke-width="0.6">read(-) | write(+)</text></g><defs><clipPath id="cp15"><rect x="171.8" y="90" width="1347.7" height="410"/></clipPath><linearGradient id="lg16" gradientUnits="userSpaceOnUse" x1="0" y1="98.4" x2="0" y2="483.8"><stop offset="0" stop-color="#f2cc0c" stop-opacity="0.1"/><stop offset="1" stop-color="#f2cc0c" stop-opacity="0"/></linearGradient></defs><g clip-path="url(#cp15)"><path d="M167,325.25C172.37,320 177.73,309.5 183.1,309.5C188.47,309.5 193.83,327.75 199.2,327.75C204.57,327.75 209.93,309.55 215.3,294C220.67,278.45 226.03,218.5 231.4,218.5C236.77,218.5 242.13,322.4 247.5,324.5C252.87,326.6 258.23,327.75 263.6,327.75C268.97,327.75 274.33,313.46 279.7,299C285.07,284.54 290.43,210.75 295.8,210.75C301.17,210.75 306.53,330.75 311.9,330.75C317.27,330.75 322.63,311.5 328,311.5C333.37,311.5 338.73,325.95 344.1,327C349.47,328.05 354.83,328.75 360.2,328.75C365.57,328.75 370.93,314.75 376.3,314.75C381.67,314.75 387.03,325.75 392.4,326.5C397.77,327.25 403.13,327.75 408.5,327.75C413.87,327.75 419.23,322.75 424.6,322.75C429.97,322.75 435.33,322.75 440.7,322.75C446.07,322.75 451.43,289.75 456.8,289.75C462.17,289.75 467.53,330.75 472.9,330.75C478.27,330.75 483.63,285.75 489,285.75C494.37,285.75 499.73,327.75 505.1,327.75C510.47,327.75 515.83,131.5 521.2,131.5C526.57,131.5 531.93,324.19 537.3,326C542.67,327.81 548.03,328.75 553.4,328.75C558.77,328.75 564.13,326.62 569.5,323.5C574.87,320.38 580.23,280 585.6,280C590.97,280 596.33,301.5 601.7,301.5C607.07,301.5 612.43,292.75 617.8,292.75C623.17,292.75 628.53,327.75 633.9,327.75C639.27,327.75 644.63,295.75 650,295.75C655.37,295.75 660.73,329.75 666.1,329.75C671.47,329.75 676.83,283.75 682.2,283.75C687.57,283.75 692.93,324.28 698.3,326C703.67,327.72 709.03,328.75 714.4,328.75C719.77,328.75 725.13,310 730.5,310C735.87,310 741.23,328.75 746.6,328.75C751.97,328.75 757.33,284.75 762.7,284.75C768.07,284.75 773.43,326.5 778.8,326.5C784.17,326.5 789.53,324.74 794.9,324C800.27,323.26 805.63,322 811,322C816.37,322 821.73,329 827.1,329C832.47,329 837.83,304.75 843.2,304.75C848.57,304.75 853.93,329 859.3,329C864.67,329 870.03,322.75 875.4,322.75C880.77,322.75 886.13,323.86 891.5,324.75C896.87,325.64 902.23,328.75 907.6,328.75C912.97,328.75 918.33,319.08 923.7,315.25C929.07,311.42 934.43,310.27 939.8,305.25C945.17,300.23 950.53,274.75 955.9,274.75C961.27,274.75 966.63,326 972,326C977.37,326 982.73,283.75 988.1,283.75C993.47,283.75 998.83,330 1004.2,330C1009.57,330 1014.93,316 1020.3,316C1025.67,316 1031.03,327.75 1036.4,327.75C1041.77,327.75 1047.13,302.83 1052.5,300.25C1057.87,297.67 1063.23,295.75 1068.6,295.75C1073.97,295.75 1079.33,317.75 1084.7,317.75C1090.07,317.75 1095.43,296.5 1100.8,296.5C1106.17,296.5 1111.53,329.75 1116.9,329.75C1122.27,329.75 1127.63,241.5 1133,241.5C1138.37,241.5 1143.73,327.25 1149.1,327.25C1154.47,327.25 1159.83,324.6 1165.2,324C1170.57,323.4 1175.93,322.75 1181.3,322.75C1186.67,322.75 1192.03,325.35 1197.4,325.75C1202.77,326.15 1208.13,326.5 1213.5,326.5C1218.87,326.5 1224.23,248.5 1229.6,248.5C1234.97,248.5 1240.33,291.5 1245.7,291.5C1251.07,291.5 1256.43,288.5 1261.8,288.5C1267.17,288.5 1272.53,290.02 1277.9,292C1283.27,293.98 1288.63,305.4 1294,311.5C1299.37,317.6 1304.73,328.75 1310.1,328.75C1315.47,328.75 1320.83,290.5 1326.2,290.5C1331.57,290.5 1336.93,330.75 1342.3,330.75C1347.67,330.75 1353.03,324.15 1358.4,319C1363.77,313.85 1369.13,296.5 1374.5,296.5C1379.87,296.5 1385.23,328.75 1390.6,328.75C1395.97,328.75 1401.33,328.75 1406.7,328.75C1412.07,328.75 1417.43,328.75 1422.8,328.75C1428.17,328.75 1433.53,315.14 1438.9,301.5C1444.27,287.86 1449.63,219.5 1455,219.5C1460.37,219.5 1465.73,268.98 1471.1,286.5C1476.47,304.02 1481.83,329.75 1487.2,329.75C1492.57,329.75 1497.93,310.75 1503.3,310.75C1508.67,310.75 1514.03,322.75 1519.4,328.75L1519.4,338.3L167,338.3Z" fill="url(#lg16)"/><path d="M167,325.25C172.37,320 177.73,309.5 183.1,309.5C188.47,309.5 193.83,327.75 199.2,327.75C204.57,327.75 209.93,309.55 215.3,294C220.67,278.45 226.03,218.5 231.4,218.5C236.77,218.5 242.13,322.4 247.5,324.5C252.87,326.6 258.23,327.75 263.6,327.75C268.97,327.75 274.33,313.46 279.7,299C285.07,284.54 290.43,210.75 295.8,210.75C301.17,210.75 306.53,330.75 311.9,330.75C317.27,330.75 322.63,311.5 328,311.5C333.37,311.5 338.73,325.95 344.1,327C349.47,328.05 354.83,328.75 360.2,328.75C365.57,328.75 370.93,314.75 376.3,314.75C381.67,314.75 387.03,325.75 392.4,326.5C397.77,327.25 403.13,327.75 408.5,327.75C413.87,327.75 419.23,322.75 424.6,322.75C429.97,322.75 435.33,322.75 440.7,322.75C446.07,322.75 451.43,289.75 456.8,289.75C462.17,289.75 467.53,330.75 472.9,330.75C478.27,330.75 483.63,285.75 489,285.75C494.37,285.75 499.73,327.75 505.1,327.75C510.47,327.75 515.83,131.5 521.2,131.5C526.57,131.5 531.93,324.19 537.3,326C542.67,327.81 548.03,328.75 553.4,328.75C558.77,328.75 564.13,326.62 569.5,323.5C574.87,320.38 580.23,280 585.6,280C590.97,280 596.33,301.5 601.7,301.5C607.07,301.5 612.43,292.75 617.8,292.75C623.17,292.75 628.53,327.75 633.9,327.75C639.27,327.75 644.63,295.75 650,295.75C655.37,295.75 660.73,329.75 666.1,329.75C671.47,329.75 676.83,283.75 682.2,283.75C687.57,283.75 692.93,324.28 698.3,326C703.67,327.72 709.03,328.75 714.4,328.75C719.77,328.75 725.13,310 730.5,310C735.87,310 741.23,328.75 746.6,328.75C751.97,328.75 757.33,284.75 762.7,284.75C768.07,284.75 773.43,326.5 778.8,326.5C784.17,326.5 789.53,324.74 794.9,324C800.27,323.26 805.63,322 811,322C816.37,322 821.73,329 827.1,329C832.47,329 837.83,304.75 843.2,304.75C848.57,304.75 853.93,329 859.3,329C864.67,329 870.03,322.75 875.4,322.75C880.77,322.75 886.13,323.86 891.5,324.75C896.87,325.64 902.23,328.75 907.6,328.75C912.97,328.75 918.33,319.08 923.7,315.25C929.07,311.42 934.43,310.27 939.8,305.25C945.17,300.23 950.53,274.75 955.9,274.75C961.27,274.75 966.63,326 972,326C977.37,326 982.73,283.75 988.1,283.75C993.47,283.75 998.83,330 1004.2,330C1009.57,330 1014.93,316 1020.3,316C1025.67,316 1031.03,327.75 1036.4,327.75C1041.77,327.75 1047.13,302.83 1052.5,300.25C1057.87,297.67 1063.23,295.75 1068.6,295.75C1073.97,295.75 1079.33,317.75 1084.7,317.75C1090.07,317.75 1095.43,296.5 1100.8,296.5C1106.17,296.5 1111.53,329.75 1116.9,329.75C1122.27,329.75 1127.63,241.5 1133,241.5C1138.37,241.5 1143.73,327.25 1149.1,327.25C1154.47,327.25 1159.83,324.6 1165.2,324C1170.57,323.4 1175.93,322.75 1181.3,322.75C1186.67,322.75 1192.03,325.35 1197.4,325.75C1202.77,326.15 1208.13,326.5 1213.5,326.5C1218.87,326.5 1224.23,248.5 1229.6,248.5C1234.97,248.5 1240.33,291.5 1245.7,291.5C1251.07,291.5 1256.43,288.5 1261.8,288.5C1267.17,288.5 1272.53,290.02 1277.9,292C1283.27,293.98 1288.63,305.4 1294,311.5C1299.37,317.6 1304.73,328.75 1310.1,328.75C1315.47,328.75 1320.83,290.5 1326.2,290.5C1331.57,290.5 1336.93,330.75 1342.3,330.75C1347.67,330.75 1353.03,324.15 1358.4,319C1363.77,313.85 1369.13,296.5 1374.5,296.5C1379.87,296.5 1385.23,328.75 1390.6,328.75C1395.97,328.75 1401.33,328.75 1406.7,328.75C1412.07,328.75 1417.43,328.75 1422.8,328.75C1428.17,328.75 1433.53,315.14 1438.9,301.5C1444.27,287.86 1449.63,219.5 1455,219.5C1460.37,219.5 1465.73,268.98 1471.1,286.5C1476.47,304.02 1481.83,329.75 1487.2,329.75C1492.57,329.75 1497.93,310.75 1503.3,310.75C1508.67,310.75 1514.03,322.75 1519.4,328.75" fill="none" stroke="#f2cc0c" stroke-width="2" stroke-linejoin="round"/></g><rect x="25.9" y="551.3" width="28" height="8" rx="2" fill="#73bf69"/><text x="70" y="562.3" font-size="24" fill="#ccccdc" textLength="260.8" lengthAdjust="spacingAndGlyphs" stroke="#ccccdc" stroke-width="0.6">sda read wait time avg</text><rect x="351.6" y="551.3" width="28" height="8" rx="2" fill="#f2cc0c"/><text x="395.7" y="562.3" font-size="24" fill="#ccccdc" textLength="266.2" lengthAdjust="spacingAndGlyphs" stroke="#ccccdc" stroke-width="0.6">sda write wait time avg</text></svg></section>
<section class="panel" style="left:1608px;top:2616px;width:1560px;height:592px"><svg width="1560" height="592" viewBox="0 0 1560 592"><path d="M2,2H66L2,66Z" fill="#262930"/><g fill="#8e8fa0"><rect x="15.6" y="15.5" width="4.1" height="3.3" rx="0.4"/><path d="M14.3,21.7h5.4v6.9h1.9v3.1h-7.3v-3.1h2v-4.1h-2z"/></g><text x="584.02" y="43.8" font-size="28" fill="#ccccdc" textLength="391.96" lengthAdjust="spacingAndGlyphs" stroke="#ccccdc" stroke-width="1.1">Average Queue Size (aqu-sz)</text><g stroke="#2b2f33" stroke-width="1" shape-rendering="crispEdges"><line x1="154.4" y1="98.4" x2="154.4" y2="491.8"/><line x1="327.17" y1="98.4" x2="327.17" y2="491.8"/><line x1="499.94" y1="98.4" x2="499.94" y2="491.8"/><line x1="672.71" y1="98.4" x2="672.71" y2="491.8"/><line x1="845.48" y1="98.4" x2="845.48" y2="491.8"/><line x1="1018.25" y1="98.4" x2="1018.25" y2="491.8"/><line x1="1191.02" y1="98.4" x2="1191.02" y2="491.8"/><line x1="1363.79" y1="98.4" x2="1363.79" y2="491.8"/><line x1="66.7" y1="98.5" x2="1526" y2="98.5"/><line x1="66.7" y1="162.5" x2="1526" y2="162.5"/><line x1="66.7" y1="227.5" x2="1526" y2="227.5"/><line x1="66.7" y1="291.5" x2="1526" y2="291.5"/><line x1="66.7" y1="355.5" x2="1526" y2="355.5"/><line x1="66.7" y1="420.5" x2="1526" y2="420.5"/><line x1="66.7" y1="484.5" x2="1526" y2="484.5"/></g><text x="22.84" y="104.6" font-size="24" fill="#ccccdc" textLength="32.16" lengthAdjust="spacingAndGlyphs" stroke="#ccccdc" stroke-width="0.6">1.2</text><text x="44.04" y="168.6" font-size="24" fill="#ccccdc" textLength="10.96" lengthAdjust="spacingAndGlyphs" stroke="#ccccdc" stroke-width="0.6">1</text><text x="18.7" y="233.6" font-size="24" fill="#ccccdc" textLength="36.3" lengthAdjust="spacingAndGlyphs" stroke="#ccccdc" stroke-width="0.6">0.8</text><text x="18.46" y="297.6" font-size="24" fill="#ccccdc" textLength="36.54" lengthAdjust="spacingAndGlyphs" stroke="#ccccdc" stroke-width="0.6">0.6</text><text x="17.97" y="361.6" font-size="24" fill="#ccccdc" textLength="37.03" lengthAdjust="spacingAndGlyphs" stroke="#ccccdc" stroke-width="0.6">0.4</text><text x="18.95" y="426.6" font-size="24" fill="#ccccdc" textLength="36.05" lengthAdjust="spacingAndGlyphs" stroke="#ccccdc" stroke-width="0.6">0.2</text><text x="40.14" y="490.6" font-size="24" fill="#ccccdc" textLength="14.86" lengthAdjust="spacingAndGlyphs" stroke="#ccccdc" stroke-width="0.6">0</text><text x="121.39" y="521.2" font-size="24" fill="#ccccdc" textLength="66.02" lengthAdjust="spacingAndGlyphs" stroke="#ccccdc" stroke-width="0.6">08:00</text><text x="294.34" y="521.2" font-size="24" fill="#ccccdc" textLength="65.65" lengthAdjust="spacingAndGlyphs" stroke="#ccccdc" stroke-width="0.6">08:05</text><text x="468.88" y="521.2" font-size="24" fill="#ccccdc" textLength="62.12" lengthAdjust="spacingAndGlyphs" stroke="#ccccdc" stroke-width="0.6">08:10</text><text x="641.83" y="521.2" font-size="24" fill="#ccccdc" textLength="61.75" lengthAdjust="spacingAndGlyphs" stroke="#ccccdc" stroke-width="0.6">08:15</text><text x="812.72" y="521.2" font-size="24" fill="#ccccdc" textLength="65.53" lengthAdjust="spacingAndGlyphs" stroke="#ccccdc" stroke-width="0.6">08:20</text><text x="985.67" y="521.2" font-size="24" fill="#ccccdc" textLength="65.16" lengthAdjust="spacingAndGlyphs" stroke="#ccccdc" stroke-width="0.6">08:25</text><text x="1158.01" y="521.2" font-size="24" fill="#ccccdc" textLength="66.02" lengthAdjust="spacingAndGlyphs" stroke="#ccccdc" stroke-width="0.6">08:30</text><text x="1330.96" y="521.2" font-size="24" fill="#ccccdc" textLength="65.65" lengthAdjust="spacingAndGlyphs" stroke="#ccccdc" stroke-width="0.6">08:35</text><defs><clipPath id="cp17"><rect x="73.8" y="90" width="1445.2" height="410"/></clipPath><linearGradient id="lg18" gradientUnits="userSpaceOnUse" x1="0" y1="98.4" x2="0" y2="483.8"><stop offset="0" stop-color="#73bf69" stop-opacity="0.1"/><stop offset="1" stop-color="#73bf69" stop-opacity="0"/></linearGradient></defs><g clip-path="url(#cp17)"><path d="M68.12,206.5C73.88,192.58 79.64,164.75 85.4,164.75C91.16,164.75 96.92,164.75 102.68,164.75C108.43,164.75 114.19,165.12 119.95,165.75C125.71,166.38 131.47,184.75 137.22,184.75C142.98,184.75 148.74,174.83 154.5,171.5C160.26,168.17 166.02,163.5 171.78,163.5C177.53,163.5 183.29,210.75 189.05,210.75C194.81,210.75 200.57,159 206.32,159C212.08,159 217.84,195.75 223.6,195.75C229.36,195.75 235.12,165.75 240.88,165.75C246.63,165.75 252.39,174.75 258.15,174.75C263.91,174.75 269.67,166.75 275.42,166.75C281.18,166.75 286.94,196.75 292.7,196.75C298.46,196.75 304.22,167 309.98,167C315.73,167 321.49,198.75 327.25,198.75C333.01,198.75 338.77,175.75 344.52,175.75C350.28,175.75 356.04,183 361.8,183C367.56,183 373.32,161.75 379.07,161.75C384.83,161.75 390.59,211.75 396.35,211.75C402.11,211.75 407.87,189 413.62,189C419.38,189 425.14,216.75 430.9,216.75C436.66,216.75 442.42,147.75 448.17,147.75C453.93,147.75 459.69,163.69 465.45,167.75C471.21,171.81 476.97,171.83 482.72,176.5C488.48,181.17 494.24,211.75 500,211.75C505.76,211.75 511.52,194.77 517.27,187.75C523.03,180.73 528.79,169 534.55,169C540.31,169 546.07,170.1 551.83,172C557.58,173.9 563.34,227.75 569.1,227.75C574.86,227.75 580.62,172 586.38,172C592.13,172 597.89,195.75 603.65,195.75C609.41,195.75 615.17,163 620.92,163C626.68,163 632.44,208.75 638.2,208.75C643.96,208.75 649.72,181.5 655.47,181.5C661.23,181.5 666.99,205.75 672.75,205.75C678.51,205.75 684.27,163 690.02,163C695.78,163 701.54,190.75 707.3,190.75C713.06,190.75 718.82,167 724.57,167C730.33,167 736.09,191.75 741.85,191.75C747.61,191.75 753.37,170 759.12,170C764.88,170 770.64,187.75 776.4,187.75C782.16,187.75 787.92,164.75 793.67,164.75C799.43,164.75 805.19,171.75 810.95,171.75C816.71,171.75 822.47,163.5 828.22,163.5C833.98,163.5 839.74,193.75 845.5,193.75C851.26,193.75 857.02,174 862.77,174C868.53,174 874.29,195.75 880.05,195.75C885.81,195.75 891.57,174.79 897.32,174C903.08,173.21 908.84,173.43 914.6,172.75C920.36,172.07 926.12,167 931.87,167C937.63,167 943.39,197.75 949.15,197.75C954.91,197.75 960.67,167 966.42,167C972.18,167 977.94,198.75 983.7,198.75C989.46,198.75 995.22,170 1000.97,170C1006.73,170 1012.49,192.75 1018.25,192.75C1024.01,192.75 1029.77,164.75 1035.53,164.75C1041.28,164.75 1047.04,193.75 1052.8,193.75C1058.56,193.75 1064.32,173 1070.07,173C1075.83,173 1081.59,193.75 1087.35,193.75C1093.11,193.75 1098.87,188.4 1104.62,184.75C1110.38,181.1 1116.14,170.75 1121.9,170.75C1127.66,170.75 1133.42,179.6 1139.17,185.75C1144.93,191.9 1150.69,209.75 1156.45,209.75C1162.21,209.75 1167.97,166 1173.72,166C1179.48,166 1185.24,193.75 1191,193.75C1196.76,193.75 1202.52,161 1208.27,161C1214.03,161 1219.79,190.75 1225.55,190.75C1231.31,190.75 1237.07,173 1242.82,173C1248.58,173 1254.34,213.75 1260.1,213.75C1265.86,213.75 1271.62,164.75 1277.38,164.75C1283.13,164.75 1288.89,193.75 1294.65,193.75C1300.41,193.75 1306.17,159 1311.92,159C1317.68,159 1323.44,181.82 1329.2,191.5C1334.96,201.18 1340.72,217.75 1346.47,217.75C1352.23,217.75 1357.99,200.12 1363.75,191.5C1369.51,182.88 1375.27,166 1381.02,166C1386.78,166 1392.54,175.75 1398.3,175.75C1404.06,175.75 1409.82,166 1415.57,166C1421.33,166 1427.09,177.88 1432.85,184C1438.61,190.12 1444.37,202.75 1450.12,202.75C1455.88,202.75 1461.64,163.75 1467.4,163.75C1473.16,163.75 1478.92,183.75 1484.67,183.75C1490.43,183.75 1496.19,177.37 1501.95,175C1507.71,172.63 1513.47,171 1519.22,169L1519.22,483.8L68.12,483.8Z" fill="url(#lg18)"/><path d="M68.12,206.5C73.88,192.58 79.64,164.75 85.4,164.75C91.16,164.75 96.92,164.75 102.68,164.75C108.43,164.75 114.19,165.12 119.95,165.75C125.71,166.38 131.47,184.75 137.22,184.75C142.98,184.75 148.74,174.83 154.5,171.5C160.26,168.17 166.02,163.5 171.78,163.5C177.53,163.5 183.29,210.75 189.05,210.75C194.81,210.75 200.57,159 206.32,159C212.08,159 217.84,195.75 223.6,195.75C229.36,195.75 235.12,165.75 240.88,165.75C246.63,165.75 252.39,174.75 258.15,174.75C263.91,174.75 269.67,166.75 275.42,166.75C281.18,166.75 286.94,196.75 292.7,196.75C298.46,196.75 304.22,167 309.98,167C315.73,167 321.49,198.75 327.25,198.75C333.01,198.75 338.77,175.75 344.52,175.75C350.28,175.75 356.04,183 361.8,183C367.56,183 373.32,161.75 379.07,161.75C384.83,161.75 390.59,211.75 396.35,211.75C402.11,211.75 407.87,189 413.62,189C419.38,189 425.14,216.75 430.9,216.75C436.66,216.75 442.42,147.75 448.17,147.75C453.93,147.75 459.69,163.69 465.45,167.75C471.21,171.81 476.97,171.83 482.72,176.5C488.48,181.17 494.24,211.75 500,211.75C505.76,211.75 511.52,194.77 517.27,187.75C523.03,180.73 528.79,169 534.55,169C540.31,169 546.07,170.1 551.83,172C557.58,173.9 563.34,227.75 569.1,227.75C574.86,227.75 580.62,172 586.38,172C592.13,172 597.89,195.75 603.65,195.75C609.41,195.75 615.17,163 620.92,163C626.68,163 632.44,208.75 638.2,208.75C643.96,208.75 649.72,181.5 655.47,181.5C661.23,181.5 666.99,205.75 672.75,205.75C678.51,205.75 684.27,163 690.02,163C695.78,163 701.54,190.75 707.3,190.75C713.06,190.75 718.82,167 724.57,167C730.33,167 736.09,191.75 741.85,191.75C747.61,191.75 753.37,170 759.12,170C764.88,170 770.64,187.75 776.4,187.75C782.16,187.75 787.92,164.75 793.67,164.75C799.43,164.75 805.19,171.75 810.95,171.75C816.71,171.75 822.47,163.5 828.22,163.5C833.98,163.5 839.74,193.75 845.5,193.75C851.26,193.75 857.02,174 862.77,174C868.53,174 874.29,195.75 880.05,195.75C885.81,195.75 891.57,174.79 897.32,174C903.08,173.21 908.84,173.43 914.6,172.75C920.36,172.07 926.12,167 931.87,167C937.63,167 943.39,197.75 949.15,197.75C954.91,197.75 960.67,167 966.42,167C972.18,167 977.94,198.75 983.7,198.75C989.46,198.75 995.22,170 1000.97,170C1006.73,170 1012.49,192.75 1018.25,192.75C1024.01,192.75 1029.77,164.75 1035.53,164.75C1041.28,164.75 1047.04,193.75 1052.8,193.75C1058.56,193.75 1064.32,173 1070.07,173C1075.83,173 1081.59,193.75 1087.35,193.75C1093.11,193.75 1098.87,188.4 1104.62,184.75C1110.38,181.1 1116.14,170.75 1121.9,170.75C1127.66,170.75 1133.42,179.6 1139.17,185.75C1144.93,191.9 1150.69,209.75 1156.45,209.75C1162.21,209.75 1167.97,166 1173.72,166C1179.48,166 1185.24,193.75 1191,193.75C1196.76,193.75 1202.52,161 1208.27,161C1214.03,161 1219.79,190.75 1225.55,190.75C1231.31,190.75 1237.07,173 1242.82,173C1248.58,173 1254.34,213.75 1260.1,213.75C1265.86,213.75 1271.62,164.75 1277.38,164.75C1283.13,164.75 1288.89,193.75 1294.65,193.75C1300.41,193.75 1306.17,159 1311.92,159C1317.68,159 1323.44,181.82 1329.2,191.5C1334.96,201.18 1340.72,217.75 1346.47,217.75C1352.23,217.75 1357.99,200.12 1363.75,191.5C1369.51,182.88 1375.27,166 1381.02,166C1386.78,166 1392.54,175.75 1398.3,175.75C1404.06,175.75 1409.82,166 1415.57,166C1421.33,166 1427.09,177.88 1432.85,184C1438.61,190.12 1444.37,202.75 1450.12,202.75C1455.88,202.75 1461.64,163.75 1467.4,163.75C1473.16,163.75 1478.92,183.75 1484.67,183.75C1490.43,183.75 1496.19,177.37 1501.95,175C1507.71,172.63 1513.47,171 1519.22,169" fill="none" stroke="#73bf69" stroke-width="2" stroke-linejoin="round"/></g><line x1="73.8" y1="483.6" x2="1519" y2="483.6" stroke="#f2cc0c" stroke-width="2.4"/><rect x="25.9" y="551.3" width="28" height="8" rx="2" fill="#73bf69"/><text x="70" y="562.3" font-size="24" fill="#ccccdc" textLength="40.5" lengthAdjust="spacingAndGlyphs" stroke="#ccccdc" stroke-width="0.6">sda</text><rect x="131.3" y="551.3" width="28" height="8" rx="2" fill="#f2cc0c"/><text x="175.4" y="562.3" font-size="24" fill="#ccccdc" textLength="36.3" lengthAdjust="spacingAndGlyphs" stroke="#ccccdc" stroke-width="0.6">sr0</text></svg></section>
</body></html>
